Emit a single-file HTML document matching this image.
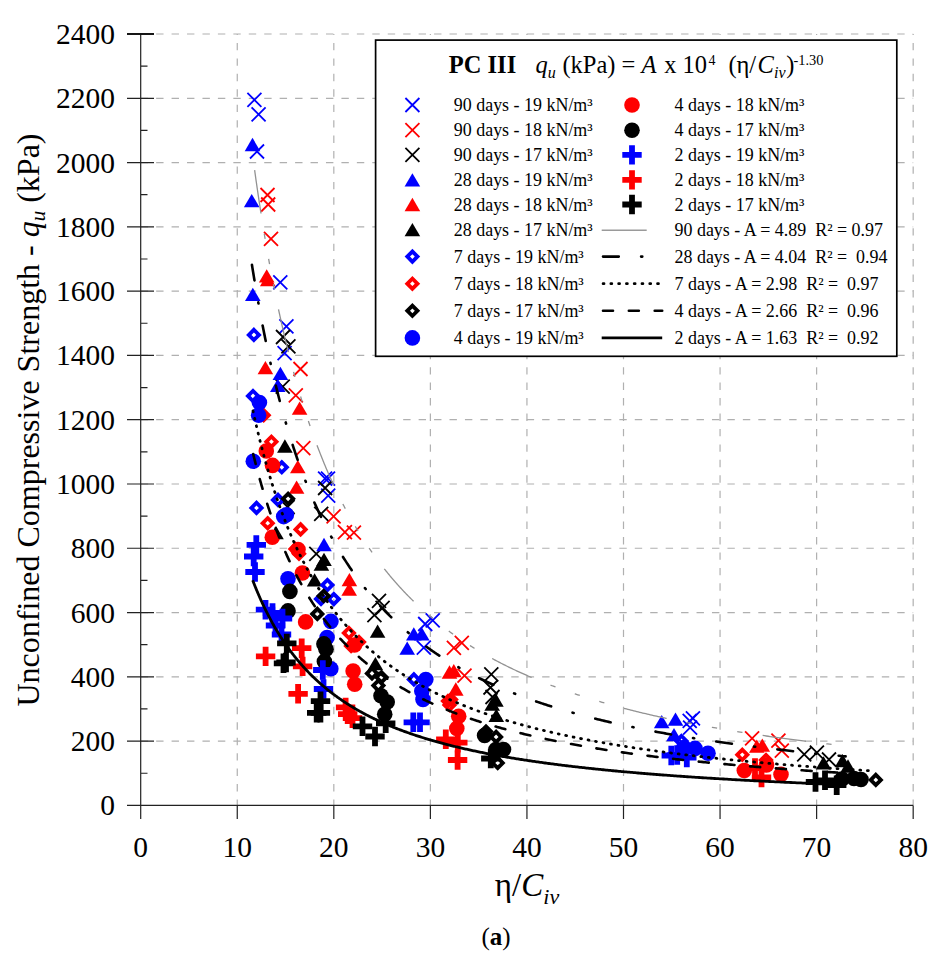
<!DOCTYPE html><html><head><meta charset="utf-8"><style>html,body{margin:0;padding:0;background:#fff;}svg{display:block;}text{font-family:"Liberation Serif",serif;}</style></head><body>
<svg width="942" height="964" viewBox="0 0 942 964">
<rect width="942" height="964" fill="#fff"/>
<path d="M237.26 805.40V33.99 M333.82 805.40V33.99 M430.38 805.40V33.99 M526.94 805.40V33.99 M623.50 805.40V33.99 M720.06 805.40V33.99 M816.62 805.40V33.99 M913.18 805.40V33.99" stroke="#b0b0b0" stroke-width="1.2" stroke-dasharray="7.4 8.04" stroke-dashoffset="1.5" fill="none"/>
<path d="M140.70 741.12H913.18 M140.70 676.83H913.18 M140.70 612.55H913.18 M140.70 548.26H913.18 M140.70 483.98H913.18 M140.70 419.70H913.18 M140.70 355.41H913.18 M140.70 291.13H913.18 M140.70 226.84H913.18 M140.70 162.56H913.18 M140.70 98.28H913.18 M140.70 33.99H913.18" stroke="#b0b0b0" stroke-width="1.2" stroke-dasharray="7.4 8.04" fill="none"/>
<path d="M140.70 33.99V805.40 M127 805.40H913.18 M127 805.40H154 M127 741.12H154 M127 676.83H154 M127 612.55H154 M127 548.26H154 M127 483.98H154 M127 419.70H154 M127 355.41H154 M127 291.13H154 M127 226.84H154 M127 162.56H154 M127 98.28H154 M127 33.99H154 M140.70 773.26H147.5 M140.70 708.97H147.5 M140.70 644.69H147.5 M140.70 580.41H147.5 M140.70 516.12H147.5 M140.70 451.84H147.5 M140.70 387.55H147.5 M140.70 323.27H147.5 M140.70 258.99H147.5 M140.70 194.70H147.5 M140.70 130.42H147.5 M140.70 66.13H147.5 M140.70 805.40V819 M237.26 805.40V819 M333.82 805.40V819 M430.38 805.40V819 M526.94 805.40V819 M623.50 805.40V819 M720.06 805.40V819 M816.62 805.40V819 M913.18 805.40V819" stroke="#222" stroke-width="1.2" fill="none"/>
<path d="M127 33.99H154" stroke="#111" stroke-width="1.9" fill="none"/>
<text x="115" y="815.40" font-size="29.5" text-anchor="end">0</text>
<text x="115" y="751.12" font-size="29.5" text-anchor="end">200</text>
<text x="115" y="686.83" font-size="29.5" text-anchor="end">400</text>
<text x="115" y="622.55" font-size="29.5" text-anchor="end">600</text>
<text x="115" y="558.26" font-size="29.5" text-anchor="end">800</text>
<text x="115" y="493.98" font-size="29.5" text-anchor="end">1000</text>
<text x="115" y="429.70" font-size="29.5" text-anchor="end">1200</text>
<text x="115" y="365.41" font-size="29.5" text-anchor="end">1400</text>
<text x="115" y="301.13" font-size="29.5" text-anchor="end">1600</text>
<text x="115" y="236.84" font-size="29.5" text-anchor="end">1800</text>
<text x="115" y="172.56" font-size="29.5" text-anchor="end">2000</text>
<text x="115" y="108.28" font-size="29.5" text-anchor="end">2200</text>
<text x="115" y="43.99" font-size="29.5" text-anchor="end">2400</text>
<text x="140.70" y="857" font-size="29.5" text-anchor="middle">0</text>
<text x="237.26" y="857" font-size="29.5" text-anchor="middle">10</text>
<text x="333.82" y="857" font-size="29.5" text-anchor="middle">20</text>
<text x="430.38" y="857" font-size="29.5" text-anchor="middle">30</text>
<text x="526.94" y="857" font-size="29.5" text-anchor="middle">40</text>
<text x="623.50" y="857" font-size="29.5" text-anchor="middle">50</text>
<text x="720.06" y="857" font-size="29.5" text-anchor="middle">60</text>
<text x="816.62" y="857" font-size="29.5" text-anchor="middle">70</text>
<text x="913.18" y="857" font-size="29.5" text-anchor="middle">80</text>
<text transform="translate(39 420) rotate(-90)" font-size="32" text-anchor="middle">Unconfined Compressive Strength - <tspan font-style="italic">q</tspan><tspan font-style="italic" font-size="21" dy="6">u</tspan><tspan dy="-6"> (kPa)</tspan></text>
<text x="527" y="896.4" font-size="33" text-anchor="middle">η/<tspan font-style="italic">C</tspan><tspan font-style="italic" font-size="22" dy="7.5">iv</tspan></text>
<text x="496" y="945" font-size="25" text-anchor="middle">(<tspan font-weight="bold">a</tspan>)</text>
<path d="M247.40 92.90L261.40 106.90M247.40 106.90L261.40 92.90" stroke="#0000ff" stroke-width="1.8" fill="none"/>
<path d="M251.60 107.40L265.60 121.40M251.60 121.40L265.60 107.40" stroke="#0000ff" stroke-width="1.8" fill="none"/>
<path d="M250.00 144.50L264.00 158.50M250.00 158.50L264.00 144.50" stroke="#0000ff" stroke-width="1.8" fill="none"/>
<path d="M273.30 275.40L287.30 289.40M273.30 289.40L287.30 275.40" stroke="#0000ff" stroke-width="1.8" fill="none"/>
<path d="M279.40 319.30L293.40 333.30M279.40 333.30L293.40 319.30" stroke="#0000ff" stroke-width="1.8" fill="none"/>
<path d="M277.60 346.20L291.60 360.20M277.60 360.20L291.60 346.20" stroke="#0000ff" stroke-width="1.8" fill="none"/>
<path d="M318.10 471.60L332.10 485.60M318.10 485.60L332.10 471.60" stroke="#0000ff" stroke-width="1.8" fill="none"/>
<path d="M321.00 471.60L335.00 485.60M321.00 485.60L335.00 471.60" stroke="#0000ff" stroke-width="1.8" fill="none"/>
<path d="M321.20 488.70L335.20 502.70M321.20 502.70L335.20 488.70" stroke="#0000ff" stroke-width="1.8" fill="none"/>
<path d="M418.20 617.00L432.20 631.00M418.20 631.00L432.20 617.00" stroke="#0000ff" stroke-width="1.8" fill="none"/>
<path d="M425.70 613.30L439.70 627.30M425.70 627.30L439.70 613.30" stroke="#0000ff" stroke-width="1.8" fill="none"/>
<path d="M416.80 640.70L430.80 654.70M416.80 654.70L430.80 640.70" stroke="#0000ff" stroke-width="1.8" fill="none"/>
<path d="M685.90 711.30L699.90 725.30M685.90 725.30L699.90 711.30" stroke="#0000ff" stroke-width="1.8" fill="none"/>
<path d="M682.70 713.80L696.70 727.80M682.70 727.80L696.70 713.80" stroke="#0000ff" stroke-width="1.8" fill="none"/>
<path d="M683.10 720.60L697.10 734.60M683.10 734.60L697.10 720.60" stroke="#0000ff" stroke-width="1.8" fill="none"/>
<path d="M260.50 188.00L274.50 202.00M260.50 202.00L274.50 188.00" stroke="#ff0000" stroke-width="1.8" fill="none"/>
<path d="M261.20 197.50L275.20 211.50M261.20 211.50L275.20 197.50" stroke="#ff0000" stroke-width="1.8" fill="none"/>
<path d="M264.00 231.90L278.00 245.90M264.00 245.90L278.00 231.90" stroke="#ff0000" stroke-width="1.8" fill="none"/>
<path d="M293.50 362.00L307.50 376.00M293.50 376.00L307.50 362.00" stroke="#ff0000" stroke-width="1.8" fill="none"/>
<path d="M288.80 388.40L302.80 402.40M288.80 402.40L302.80 388.40" stroke="#ff0000" stroke-width="1.8" fill="none"/>
<path d="M296.30 441.10L310.30 455.10M296.30 455.10L310.30 441.10" stroke="#ff0000" stroke-width="1.8" fill="none"/>
<path d="M326.60 509.40L340.60 523.40M326.60 523.40L340.60 509.40" stroke="#ff0000" stroke-width="1.8" fill="none"/>
<path d="M337.90 525.10L351.90 539.10M337.90 539.10L351.90 525.10" stroke="#ff0000" stroke-width="1.8" fill="none"/>
<path d="M346.90 525.70L360.90 539.70M346.90 539.70L360.90 525.70" stroke="#ff0000" stroke-width="1.8" fill="none"/>
<path d="M446.90 640.80L460.90 654.80M446.90 654.80L460.90 640.80" stroke="#ff0000" stroke-width="1.8" fill="none"/>
<path d="M454.80 635.80L468.80 649.80M454.80 649.80L468.80 635.80" stroke="#ff0000" stroke-width="1.8" fill="none"/>
<path d="M457.50 668.70L471.50 682.70M457.50 682.70L471.50 668.70" stroke="#ff0000" stroke-width="1.8" fill="none"/>
<path d="M745.10 731.30L759.10 745.30M745.10 745.30L759.10 731.30" stroke="#ff0000" stroke-width="1.8" fill="none"/>
<path d="M771.40 733.60L785.40 747.60M771.40 747.60L785.40 733.60" stroke="#ff0000" stroke-width="1.8" fill="none"/>
<path d="M774.80 743.60L788.80 757.60M774.80 757.60L788.80 743.60" stroke="#ff0000" stroke-width="1.8" fill="none"/>
<path d="M276.00 330.00L290.00 344.00M276.00 344.00L290.00 330.00" stroke="#000000" stroke-width="1.8" fill="none"/>
<path d="M281.40 339.40L295.40 353.40M281.40 353.40L295.40 339.40" stroke="#000000" stroke-width="1.8" fill="none"/>
<path d="M275.70 379.60L289.70 393.60M275.70 393.60L289.70 379.60" stroke="#000000" stroke-width="1.8" fill="none"/>
<path d="M318.10 481.00L332.10 495.00M318.10 495.00L332.10 481.00" stroke="#000000" stroke-width="1.8" fill="none"/>
<path d="M314.20 506.80L328.20 520.80M314.20 520.80L328.20 506.80" stroke="#000000" stroke-width="1.8" fill="none"/>
<path d="M280.60 500.00L294.60 514.00M280.60 514.00L294.60 500.00" stroke="#000000" stroke-width="1.8" fill="none"/>
<path d="M309.30 546.80L323.30 560.80M309.30 560.80L323.30 546.80" stroke="#000000" stroke-width="1.8" fill="none"/>
<path d="M372.00 593.90L386.00 607.90M372.00 607.90L386.00 593.90" stroke="#000000" stroke-width="1.8" fill="none"/>
<path d="M375.60 600.80L389.60 614.80M375.60 614.80L389.60 600.80" stroke="#000000" stroke-width="1.8" fill="none"/>
<path d="M367.40 608.10L381.40 622.10M367.40 622.10L381.40 608.10" stroke="#000000" stroke-width="1.8" fill="none"/>
<path d="M484.30 667.40L498.30 681.40M484.30 681.40L498.30 667.40" stroke="#000000" stroke-width="1.8" fill="none"/>
<path d="M483.50 680.50L497.50 694.50M483.50 694.50L497.50 680.50" stroke="#000000" stroke-width="1.8" fill="none"/>
<path d="M485.50 690.00L499.50 704.00M485.50 704.00L499.50 690.00" stroke="#000000" stroke-width="1.8" fill="none"/>
<path d="M797.20 747.40L811.20 761.40M797.20 761.40L811.20 747.40" stroke="#000000" stroke-width="1.8" fill="none"/>
<path d="M809.90 745.70L823.90 759.70M809.90 759.70L823.90 745.70" stroke="#000000" stroke-width="1.8" fill="none"/>
<path d="M822.00 752.50L836.00 766.50M822.00 766.50L836.00 752.50" stroke="#000000" stroke-width="1.8" fill="none"/>
<path d="M252.50 137.85L260.30 151.15L244.70 151.15Z" fill="#0000ff"/>
<path d="M251.70 193.95L259.50 207.25L243.90 207.25Z" fill="#0000ff"/>
<path d="M252.80 287.65L260.60 300.95L245.00 300.95Z" fill="#0000ff"/>
<path d="M280.40 366.65L288.20 379.95L272.60 379.95Z" fill="#0000ff"/>
<path d="M277.80 378.65L285.60 391.95L270.00 391.95Z" fill="#0000ff"/>
<path d="M324.00 537.85L331.80 551.15L316.20 551.15Z" fill="#0000ff"/>
<path d="M413.80 627.15L421.60 640.45L406.00 640.45Z" fill="#0000ff"/>
<path d="M421.80 627.15L429.60 640.45L414.00 640.45Z" fill="#0000ff"/>
<path d="M407.20 641.55L415.00 654.85L399.40 654.85Z" fill="#0000ff"/>
<path d="M661.70 715.05L669.50 728.35L653.90 728.35Z" fill="#0000ff"/>
<path d="M675.50 712.45L683.30 725.75L667.70 725.75Z" fill="#0000ff"/>
<path d="M674.00 727.95L681.80 741.25L666.20 741.25Z" fill="#0000ff"/>
<path d="M266.70 269.15L274.50 282.45L258.90 282.45Z" fill="#ff0000"/>
<path d="M267.75 272.85L275.55 286.15L259.95 286.15Z" fill="#ff0000"/>
<path d="M265.40 360.95L273.20 374.25L257.60 374.25Z" fill="#ff0000"/>
<path d="M299.60 401.55L307.40 414.85L291.80 414.85Z" fill="#ff0000"/>
<path d="M297.80 460.05L305.60 473.35L290.00 473.35Z" fill="#ff0000"/>
<path d="M296.60 480.55L304.40 493.85L288.80 493.85Z" fill="#ff0000"/>
<path d="M349.40 572.95L357.20 586.25L341.60 586.25Z" fill="#ff0000"/>
<path d="M349.20 582.45L357.00 595.75L341.40 595.75Z" fill="#ff0000"/>
<path d="M449.50 665.35L457.30 678.65L441.70 678.65Z" fill="#ff0000"/>
<path d="M453.80 663.95L461.60 677.25L446.00 677.25Z" fill="#ff0000"/>
<path d="M455.80 682.35L463.60 695.65L448.00 695.65Z" fill="#ff0000"/>
<path d="M756.80 739.55L764.60 752.85L749.00 752.85Z" fill="#ff0000"/>
<path d="M762.30 738.55L770.10 751.85L754.50 751.85Z" fill="#ff0000"/>
<path d="M284.90 439.35L292.70 452.65L277.10 452.65Z" fill="#000000"/>
<path d="M276.00 525.95L283.80 539.25L268.20 539.25Z" fill="#000000"/>
<path d="M324.00 552.65L331.80 565.95L316.20 565.95Z" fill="#000000"/>
<path d="M321.40 557.55L329.20 570.85L313.60 570.85Z" fill="#000000"/>
<path d="M314.60 573.25L322.40 586.55L306.80 586.55Z" fill="#000000"/>
<path d="M377.60 624.55L385.40 637.85L369.80 637.85Z" fill="#000000"/>
<path d="M375.40 656.95L383.20 670.25L367.60 670.25Z" fill="#000000"/>
<path d="M495.90 693.35L503.70 706.65L488.10 706.65Z" fill="#000000"/>
<path d="M492.20 697.55L500.00 710.85L484.40 710.85Z" fill="#000000"/>
<path d="M496.30 708.75L504.10 722.05L488.50 722.05Z" fill="#000000"/>
<path d="M823.50 756.15L831.30 769.45L815.70 769.45Z" fill="#000000"/>
<path d="M842.50 754.05L850.30 767.35L834.70 767.35Z" fill="#000000"/>
<path d="M848.00 759.35L855.80 772.65L840.20 772.65Z" fill="#000000"/>
<path d="M253.90 327.10L261.70 334.90L253.90 342.70L246.10 334.90ZM253.90 332.50L251.50 334.90L253.90 337.30L256.30 334.90Z" fill="#0000ff" fill-rule="evenodd"/>
<path d="M253.00 388.20L260.80 396.00L253.00 403.80L245.20 396.00ZM253.00 393.60L250.60 396.00L253.00 398.40L255.40 396.00Z" fill="#0000ff" fill-rule="evenodd"/>
<path d="M281.80 459.50L289.60 467.30L281.80 475.10L274.00 467.30ZM281.80 464.90L279.40 467.30L281.80 469.70L284.20 467.30Z" fill="#0000ff" fill-rule="evenodd"/>
<path d="M278.00 492.10L285.80 499.90L278.00 507.70L270.20 499.90ZM278.00 497.50L275.60 499.90L278.00 502.30L280.40 499.90Z" fill="#0000ff" fill-rule="evenodd"/>
<path d="M256.50 500.10L264.30 507.90L256.50 515.70L248.70 507.90ZM256.50 505.50L254.10 507.90L256.50 510.30L258.90 507.90Z" fill="#0000ff" fill-rule="evenodd"/>
<path d="M327.40 577.20L335.20 585.00L327.40 592.80L319.60 585.00ZM327.40 582.60L325.00 585.00L327.40 587.40L329.80 585.00Z" fill="#0000ff" fill-rule="evenodd"/>
<path d="M333.80 591.30L341.60 599.10L333.80 606.90L326.00 599.10ZM333.80 596.70L331.40 599.10L333.80 601.50L336.20 599.10Z" fill="#0000ff" fill-rule="evenodd"/>
<path d="M321.00 591.20L328.80 599.00L321.00 606.80L313.20 599.00ZM321.00 596.60L318.60 599.00L321.00 601.40L323.40 599.00Z" fill="#0000ff" fill-rule="evenodd"/>
<path d="M413.90 671.60L421.70 679.40L413.90 687.20L406.10 679.40ZM413.90 677.00L411.50 679.40L413.90 681.80L416.30 679.40Z" fill="#0000ff" fill-rule="evenodd"/>
<path d="M681.40 733.20L689.20 741.00L681.40 748.80L673.60 741.00ZM681.40 738.60L679.00 741.00L681.40 743.40L683.80 741.00Z" fill="#0000ff" fill-rule="evenodd"/>
<path d="M263.70 407.40L271.50 415.20L263.70 423.00L255.90 415.20ZM263.70 412.80L261.30 415.20L263.70 417.60L266.10 415.20Z" fill="#ff0000" fill-rule="evenodd"/>
<path d="M271.40 433.90L279.20 441.70L271.40 449.50L263.60 441.70ZM271.40 439.30L269.00 441.70L271.40 444.10L273.80 441.70Z" fill="#ff0000" fill-rule="evenodd"/>
<path d="M267.70 515.40L275.50 523.20L267.70 531.00L259.90 523.20ZM267.70 520.80L265.30 523.20L267.70 525.60L270.10 523.20Z" fill="#ff0000" fill-rule="evenodd"/>
<path d="M300.60 521.60L308.40 529.40L300.60 537.20L292.80 529.40ZM300.60 527.00L298.20 529.40L300.60 531.80L303.00 529.40Z" fill="#ff0000" fill-rule="evenodd"/>
<path d="M295.50 541.20L303.30 549.00L295.50 556.80L287.70 549.00ZM295.50 546.60L293.10 549.00L295.50 551.40L297.90 549.00Z" fill="#ff0000" fill-rule="evenodd"/>
<path d="M299.00 546.00L306.80 553.80L299.00 561.60L291.20 553.80ZM299.00 551.40L296.60 553.80L299.00 556.20L301.40 553.80Z" fill="#ff0000" fill-rule="evenodd"/>
<path d="M348.90 625.20L356.70 633.00L348.90 640.80L341.10 633.00ZM348.90 630.60L346.50 633.00L348.90 635.40L351.30 633.00Z" fill="#ff0000" fill-rule="evenodd"/>
<path d="M351.10 638.10L358.90 645.90L351.10 653.70L343.30 645.90ZM351.10 643.50L348.70 645.90L351.10 648.30L353.50 645.90Z" fill="#ff0000" fill-rule="evenodd"/>
<path d="M359.00 634.20L366.80 642.00L359.00 649.80L351.20 642.00ZM359.00 639.60L356.60 642.00L359.00 644.40L361.40 642.00Z" fill="#ff0000" fill-rule="evenodd"/>
<path d="M355.50 636.20L363.30 644.00L355.50 651.80L347.70 644.00ZM355.50 641.60L353.10 644.00L355.50 646.40L357.90 644.00Z" fill="#ff0000" fill-rule="evenodd"/>
<path d="M448.00 693.20L455.80 701.00L448.00 708.80L440.20 701.00ZM448.00 698.60L445.60 701.00L448.00 703.40L450.40 701.00Z" fill="#ff0000" fill-rule="evenodd"/>
<path d="M451.00 691.70L458.80 699.50L451.00 707.30L443.20 699.50ZM451.00 697.10L448.60 699.50L451.00 701.90L453.40 699.50Z" fill="#ff0000" fill-rule="evenodd"/>
<path d="M449.50 697.20L457.30 705.00L449.50 712.80L441.70 705.00ZM449.50 702.60L447.10 705.00L449.50 707.40L451.90 705.00Z" fill="#ff0000" fill-rule="evenodd"/>
<path d="M742.30 747.00L750.10 754.80L742.30 762.60L734.50 754.80ZM742.30 752.40L739.90 754.80L742.30 757.20L744.70 754.80Z" fill="#ff0000" fill-rule="evenodd"/>
<path d="M766.00 752.20L773.80 760.00L766.00 767.80L758.20 760.00ZM766.00 757.60L763.60 760.00L766.00 762.40L768.40 760.00Z" fill="#ff0000" fill-rule="evenodd"/>
<path d="M288.10 491.00L295.90 498.80L288.10 506.60L280.30 498.80ZM288.10 496.40L285.70 498.80L288.10 501.20L290.50 498.80Z" fill="#000000" fill-rule="evenodd"/>
<path d="M323.70 588.20L331.50 596.00L323.70 603.80L315.90 596.00ZM323.70 593.60L321.30 596.00L323.70 598.40L326.10 596.00Z" fill="#000000" fill-rule="evenodd"/>
<path d="M317.30 606.10L325.10 613.90L317.30 621.70L309.50 613.90ZM317.30 611.50L314.90 613.90L317.30 616.30L319.70 613.90Z" fill="#000000" fill-rule="evenodd"/>
<path d="M372.00 665.60L379.80 673.40L372.00 681.20L364.20 673.40ZM372.00 671.00L369.60 673.40L372.00 675.80L374.40 673.40Z" fill="#000000" fill-rule="evenodd"/>
<path d="M381.50 669.40L389.30 677.20L381.50 685.00L373.70 677.20ZM381.50 674.80L379.10 677.20L381.50 679.60L383.90 677.20Z" fill="#000000" fill-rule="evenodd"/>
<path d="M378.40 677.80L386.20 685.60L378.40 693.40L370.60 685.60ZM378.40 683.20L376.00 685.60L378.40 688.00L380.80 685.60Z" fill="#000000" fill-rule="evenodd"/>
<path d="M486.00 723.70L493.80 731.50L486.00 739.30L478.20 731.50ZM486.00 729.10L483.60 731.50L486.00 733.90L488.40 731.50Z" fill="#000000" fill-rule="evenodd"/>
<path d="M496.10 729.10L503.90 736.90L496.10 744.70L488.30 736.90ZM496.10 734.50L493.70 736.90L496.10 739.30L498.50 736.90Z" fill="#000000" fill-rule="evenodd"/>
<path d="M497.70 755.10L505.50 762.90L497.70 770.70L489.90 762.90ZM497.70 760.50L495.30 762.90L497.70 765.30L500.10 762.90Z" fill="#000000" fill-rule="evenodd"/>
<path d="M875.80 772.10L883.60 779.90L875.80 787.70L868.00 779.90ZM875.80 777.50L873.40 779.90L875.80 782.30L878.20 779.90Z" fill="#000000" fill-rule="evenodd"/>
<circle cx="259.40" cy="402.50" r="7.8" fill="#0000ff"/>
<circle cx="258.60" cy="415.20" r="7.8" fill="#0000ff"/>
<circle cx="253.30" cy="461.30" r="7.8" fill="#0000ff"/>
<circle cx="283.70" cy="516.60" r="7.8" fill="#0000ff"/>
<circle cx="286.40" cy="514.80" r="7.8" fill="#0000ff"/>
<circle cx="288.00" cy="578.80" r="7.8" fill="#0000ff"/>
<circle cx="330.90" cy="621.40" r="7.8" fill="#0000ff"/>
<circle cx="327.10" cy="637.50" r="7.8" fill="#0000ff"/>
<circle cx="330.80" cy="668.80" r="7.8" fill="#0000ff"/>
<circle cx="425.80" cy="679.50" r="7.8" fill="#0000ff"/>
<circle cx="421.80" cy="691.00" r="7.8" fill="#0000ff"/>
<circle cx="423.00" cy="699.50" r="7.8" fill="#0000ff"/>
<circle cx="684.00" cy="747.60" r="7.8" fill="#0000ff"/>
<circle cx="695.00" cy="748.40" r="7.8" fill="#0000ff"/>
<circle cx="708.00" cy="753.30" r="7.8" fill="#0000ff"/>
<circle cx="266.30" cy="451.00" r="7.8" fill="#ff0000"/>
<circle cx="272.50" cy="465.40" r="7.8" fill="#ff0000"/>
<circle cx="272.30" cy="537.30" r="7.8" fill="#ff0000"/>
<circle cx="298.00" cy="549.50" r="7.8" fill="#ff0000"/>
<circle cx="302.40" cy="573.00" r="7.8" fill="#ff0000"/>
<circle cx="305.60" cy="621.90" r="7.8" fill="#ff0000"/>
<circle cx="354.50" cy="645.00" r="7.8" fill="#ff0000"/>
<circle cx="353.10" cy="671.00" r="7.8" fill="#ff0000"/>
<circle cx="354.70" cy="684.20" r="7.8" fill="#ff0000"/>
<circle cx="458.70" cy="716.20" r="7.8" fill="#ff0000"/>
<circle cx="456.80" cy="728.40" r="7.8" fill="#ff0000"/>
<circle cx="744.30" cy="770.50" r="7.8" fill="#ff0000"/>
<circle cx="766.50" cy="765.00" r="7.8" fill="#ff0000"/>
<circle cx="781.00" cy="774.40" r="7.8" fill="#ff0000"/>
<circle cx="289.90" cy="591.40" r="7.8" fill="#000000"/>
<circle cx="288.00" cy="610.90" r="7.8" fill="#000000"/>
<circle cx="323.90" cy="643.90" r="7.8" fill="#000000"/>
<circle cx="326.00" cy="649.20" r="7.8" fill="#000000"/>
<circle cx="324.40" cy="661.40" r="7.8" fill="#000000"/>
<circle cx="381.00" cy="695.80" r="7.8" fill="#000000"/>
<circle cx="387.20" cy="702.00" r="7.8" fill="#000000"/>
<circle cx="384.70" cy="714.30" r="7.8" fill="#000000"/>
<circle cx="484.60" cy="735.50" r="7.8" fill="#000000"/>
<circle cx="503.50" cy="749.60" r="7.8" fill="#000000"/>
<circle cx="496.00" cy="749.50" r="7.8" fill="#000000"/>
<circle cx="854.00" cy="778.50" r="7.8" fill="#000000"/>
<circle cx="861.00" cy="779.50" r="7.8" fill="#000000"/>
<circle cx="842.00" cy="779.00" r="7.8" fill="#000000"/>
<path d="M253.40 535.20h5.8v6.80h6.80v5.8h-6.80v6.80h-5.8v-6.80h-6.80v-5.8h6.80Z" fill="#0000ff"/>
<path d="M250.80 546.80h5.8v6.80h6.80v5.8h-6.80v6.80h-5.8v-6.80h-6.80v-5.8h6.80Z" fill="#0000ff"/>
<path d="M252.10 562.30h5.8v6.80h6.80v5.8h-6.80v6.80h-5.8v-6.80h-6.80v-5.8h6.80Z" fill="#0000ff"/>
<path d="M262.60 600.00h5.8v6.80h6.80v5.8h-6.80v6.80h-5.8v-6.80h-6.80v-5.8h6.80Z" fill="#0000ff"/>
<path d="M269.60 603.30h5.8v6.80h6.80v5.8h-6.80v6.80h-5.8v-6.80h-6.80v-5.8h6.80Z" fill="#0000ff"/>
<path d="M279.60 608.80h5.8v6.80h6.80v5.8h-6.80v6.80h-5.8v-6.80h-6.80v-5.8h6.80Z" fill="#0000ff"/>
<path d="M272.60 615.80h5.8v6.80h6.80v5.8h-6.80v6.80h-5.8v-6.80h-6.80v-5.8h6.80Z" fill="#0000ff"/>
<path d="M278.60 624.80h5.8v6.80h6.80v5.8h-6.80v6.80h-5.8v-6.80h-6.80v-5.8h6.80Z" fill="#0000ff"/>
<path d="M319.90 660.30h5.8v6.80h6.80v5.8h-6.80v6.80h-5.8v-6.80h-6.80v-5.8h6.80Z" fill="#0000ff"/>
<path d="M320.60 679.30h5.8v6.80h6.80v5.8h-6.80v6.80h-5.8v-6.80h-6.80v-5.8h6.80Z" fill="#0000ff"/>
<path d="M410.40 712.60h5.8v6.80h6.80v5.8h-6.80v6.80h-5.8v-6.80h-6.80v-5.8h6.80Z" fill="#0000ff"/>
<path d="M417.10 712.60h5.8v6.80h6.80v5.8h-6.80v6.80h-5.8v-6.80h-6.80v-5.8h6.80Z" fill="#0000ff"/>
<path d="M668.40 745.80h5.8v6.80h6.80v5.8h-6.80v6.80h-5.8v-6.80h-6.80v-5.8h6.80Z" fill="#0000ff"/>
<path d="M674.30 745.30h5.8v6.80h6.80v5.8h-6.80v6.80h-5.8v-6.80h-6.80v-5.8h6.80Z" fill="#0000ff"/>
<path d="M683.90 747.90h5.8v6.80h6.80v5.8h-6.80v6.80h-5.8v-6.80h-6.80v-5.8h6.80Z" fill="#0000ff"/>
<path d="M262.70 646.70h5.8v6.80h6.80v5.8h-6.80v6.80h-5.8v-6.80h-6.80v-5.8h6.80Z" fill="#ff0000"/>
<path d="M298.80 638.50h5.8v6.80h6.80v5.8h-6.80v6.80h-5.8v-6.80h-6.80v-5.8h6.80Z" fill="#ff0000"/>
<path d="M299.70 656.70h5.8v6.80h6.80v5.8h-6.80v6.80h-5.8v-6.80h-6.80v-5.8h6.80Z" fill="#ff0000"/>
<path d="M295.20 684.10h5.8v6.80h6.80v5.8h-6.80v6.80h-5.8v-6.80h-6.80v-5.8h6.80Z" fill="#ff0000"/>
<path d="M342.70 697.70h5.8v6.80h6.80v5.8h-6.80v6.80h-5.8v-6.80h-6.80v-5.8h6.80Z" fill="#ff0000"/>
<path d="M344.80 704.50h5.8v6.80h6.80v5.8h-6.80v6.80h-5.8v-6.80h-6.80v-5.8h6.80Z" fill="#ff0000"/>
<path d="M349.60 708.50h5.8v6.80h6.80v5.8h-6.80v6.80h-5.8v-6.80h-6.80v-5.8h6.80Z" fill="#ff0000"/>
<path d="M442.90 729.60h5.8v6.80h6.80v5.8h-6.80v6.80h-5.8v-6.80h-6.80v-5.8h6.80Z" fill="#ff0000"/>
<path d="M454.90 733.00h5.8v6.80h6.80v5.8h-6.80v6.80h-5.8v-6.80h-6.80v-5.8h6.80Z" fill="#ff0000"/>
<path d="M454.70 750.30h5.8v6.80h6.80v5.8h-6.80v6.80h-5.8v-6.80h-6.80v-5.8h6.80Z" fill="#ff0000"/>
<path d="M752.10 758.30h5.8v6.80h6.80v5.8h-6.80v6.80h-5.8v-6.80h-6.80v-5.8h6.80Z" fill="#ff0000"/>
<path d="M758.60 767.80h5.8v6.80h6.80v5.8h-6.80v6.80h-5.8v-6.80h-6.80v-5.8h6.80Z" fill="#ff0000"/>
<path d="M283.90 633.70h5.8v6.80h6.80v5.8h-6.80v6.80h-5.8v-6.80h-6.80v-5.8h6.80Z" fill="#000000"/>
<path d="M280.60 653.60h5.8v6.80h6.80v5.8h-6.80v6.80h-5.8v-6.80h-6.80v-5.8h6.80Z" fill="#000000"/>
<path d="M283.10 652.80h5.8v6.80h6.80v5.8h-6.80v6.80h-5.8v-6.80h-6.80v-5.8h6.80Z" fill="#000000"/>
<path d="M317.60 691.40h5.8v6.80h6.80v5.8h-6.80v6.80h-5.8v-6.80h-6.80v-5.8h6.80Z" fill="#000000"/>
<path d="M313.80 703.10h5.8v6.80h6.80v5.8h-6.80v6.80h-5.8v-6.80h-6.80v-5.8h6.80Z" fill="#000000"/>
<path d="M317.50 703.10h5.8v6.80h6.80v5.8h-6.80v6.80h-5.8v-6.80h-6.80v-5.8h6.80Z" fill="#000000"/>
<path d="M359.60 716.60h5.8v6.80h6.80v5.8h-6.80v6.80h-5.8v-6.80h-6.80v-5.8h6.80Z" fill="#000000"/>
<path d="M372.10 726.80h5.8v6.80h6.80v5.8h-6.80v6.80h-5.8v-6.80h-6.80v-5.8h6.80Z" fill="#000000"/>
<path d="M382.80 713.60h5.8v6.80h6.80v5.8h-6.80v6.80h-5.8v-6.80h-6.80v-5.8h6.80Z" fill="#000000"/>
<path d="M487.90 748.80h5.8v6.80h6.80v5.8h-6.80v6.80h-5.8v-6.80h-6.80v-5.8h6.80Z" fill="#000000"/>
<path d="M812.60 772.30h5.8v6.80h6.80v5.8h-6.80v6.80h-5.8v-6.80h-6.80v-5.8h6.80Z" fill="#000000"/>
<path d="M822.10 770.60h5.8v6.80h6.80v5.8h-6.80v6.80h-5.8v-6.80h-6.80v-5.8h6.80Z" fill="#000000"/>
<path d="M833.80 775.50h5.8v6.80h6.80v5.8h-6.80v6.80h-5.8v-6.80h-6.80v-5.8h6.80Z" fill="#000000"/>
<path d="M254.64 170.16 L254.98 172.65 L255.33 175.12 L255.68 177.59 L256.02 180.04 L256.37 182.49 L256.72 184.92 L257.07 187.35 L257.42 189.77 L257.77 192.18 L258.13 194.57 L258.48 196.96 L258.84 199.34 L259.19 201.71 L259.55 204.07 L259.91 206.43 L260.27 208.77 L260.63 211.10 L260.99 213.43 L261.36 215.74 L261.72 218.05 L262.09 220.34 L262.45 222.63 L262.82 224.91 L263.19 227.18 L263.56 229.44 L263.93 231.70 L264.30 233.94 L264.67 236.17 L265.05 238.40 L265.42 240.62 L265.80 242.83 L266.18 245.03 L266.56 247.22 L266.94 249.40 L267.32 251.58 L267.70 253.74 L268.08 255.90 L268.47 258.05 L268.85 260.19 L269.24 262.32 L269.63 264.45 L270.02 266.56 L270.41 268.67 L270.80 270.77 L271.19 272.86 L271.59 274.94 L271.98 277.02 L272.38 279.08 L272.78 281.14 L273.17 283.19 L273.57 285.23 L273.98 287.27 L274.38 289.29 L274.78 291.31 L275.19 293.32 L275.59 295.33 L276.00 297.32 L276.41 299.31 L276.82 301.29 L277.23 303.26 L277.64 305.22 L278.05 307.18 L278.47 309.13 L278.88 311.07 L279.30 313.00 L279.72 314.93 L280.14 316.84 L280.56 318.76 L280.98 320.66 L281.41 322.55 L281.83 324.44 L282.26 326.32 L282.68 328.20 L283.11 330.06 L283.54 331.92 L283.97 333.77 L284.41 335.62 L284.84 337.46 L285.28 339.29 L285.71 341.11 L286.15 342.92 L286.59 344.73 L287.03 346.53 L287.47 348.33 L287.91 350.12 L288.36 351.90 L288.80 353.67 L289.25 355.44 L289.70 357.20 L290.15 358.95 L290.60 360.70 L291.05 362.44 L291.51 364.17 L291.96 365.89 L292.42 367.61 L292.88 369.32 L293.34 371.03 L293.80 372.73 L294.26 374.42 L294.72 376.11 L295.19 377.79 L295.66 379.46 L296.12 381.12 L296.59 382.78 L297.06 384.44 L297.53 386.08 L298.01 387.72 L298.48 389.36 L298.96 390.98 L299.44 392.60 L299.92 394.22 L300.40 395.83 L300.88 397.43 L301.36 399.02 L301.85 400.61 L302.33 402.20 L302.82 403.77 L303.31 405.34 L303.80 406.91 L304.29 408.47 L304.79 410.02 L305.28 411.56 L305.78 413.11 L306.28 414.64 L306.78 416.17 L307.28 417.69 L307.78 419.21 L308.29 420.72 L308.79 422.22 L309.30 423.72 L309.81 425.21 L310.32 426.70 L310.83 428.18 L311.35 429.66 L311.86 431.12 L312.38 432.59 L312.90 434.05 L313.42 435.50 L313.94 436.95 L314.46 438.39 L314.99 439.82 L315.51 441.25 L316.04 442.68 L316.57 444.09 L317.10 445.51 L317.63 446.92 L318.17 448.32 L318.70 449.71 L319.24 451.10 L319.78 452.49 L320.32 453.87 L320.86 455.25 L321.40 456.61 L321.95 457.98 L322.50 459.34 L323.05 460.69 L323.60 462.04 L324.15 463.38 L324.70 464.72 L325.26 466.05 L325.82 467.38 L326.37 468.70 L326.93 470.02 L327.50 471.33 L328.06 472.64 L328.63 473.94 L329.19 475.23 L329.76 476.52 L330.33 477.81 L330.91 479.09 L331.48 480.37 L332.06 481.64 L332.63 482.91 L333.21 484.17 L333.79 485.42 L334.38 486.67 L334.96 487.92 L335.55 489.16 L336.14 490.40 L336.73 491.63 L337.32 492.86 L337.91 494.08 L338.51 495.30 L339.10 496.51 L339.70 497.72 L340.30 498.92 L340.91 500.12 L341.51 501.32 L342.12 502.50 L342.73 503.69 L343.33 504.87 L343.95 506.04 L344.56 507.21 L345.18 508.38 L345.79 509.54 L346.41 510.70 L347.03 511.85 L347.66 513.00 L348.28 514.14 L348.91 515.28 L349.54 516.42 L350.17 517.55 L350.80 518.67 L351.43 519.79 L352.07 520.91 L352.71 522.02 L353.35 523.13 L353.99 524.24 L354.63 525.34 L355.28 526.43 L355.93 527.52 L356.58 528.61 L357.23 529.69 L357.88 530.77 L358.54 531.84 L359.19 532.91 L359.85 533.98 L360.52 535.04 L361.18 536.10 L361.85 537.15 L362.51 538.20 L363.18 539.25 L363.85 540.29 L364.53 541.32 L365.20 542.36 L365.88 543.38 L366.56 544.41 L367.24 545.43 L367.93 546.45 L368.61 547.46 L369.30 548.47 L369.99 549.47 L370.68 550.47 L371.38 551.47 L372.07 552.46 L372.77 553.45 L373.47 554.44 L374.18 555.42 L374.88 556.40 L375.59 557.37 L376.30 558.34 L377.01 559.31 L377.72 560.27 L378.44 561.23 L379.15 562.18 L379.87 563.14 L380.60 564.08 L381.32 565.03 L382.05 565.97 L382.78 566.90 L383.51 567.84 L384.24 568.76 L384.97 569.69 L385.71 570.61 L386.45 571.53 L387.19 572.45 L387.94 573.36 L388.68 574.26 L389.43 575.17 L390.18 576.07 L390.94 576.96 L391.69 577.86 L392.45 578.75 L393.21 579.63 L393.97 580.52 L394.74 581.40 L395.50 582.27 L396.27 583.15 L397.04 584.01 L397.82 584.88 L398.59 585.74 L399.37 586.60 L400.15 587.46 L400.94 588.31 L401.72 589.16 L402.51 590.00 L403.30 590.85 L404.09 591.69 L404.89 592.52 L405.69 593.35 L406.49 594.18 L407.29 595.01 L408.09 595.83 L408.90 596.65 L409.71 597.47 L410.52 598.28 L411.34 599.09 L412.15 599.90 L412.97 600.70 L413.79 601.50 L414.62 602.30 L415.45 603.09 L416.28 603.89 L417.11 604.67 L417.94 605.46 L418.78 606.24 L419.62 607.02 L420.46 607.80 L421.31 608.57 L422.15 609.34 L423.00 610.11 L423.85 610.87 L424.71 611.63 L425.57 612.39 L426.43 613.14 L427.29 613.89 L428.15 614.64 L429.02 615.39 L429.89 616.13 L430.77 616.87 L431.64 617.61 L432.52 618.34 L433.40 619.08 L434.28 619.80 L435.17 620.53 L436.06 621.25 L436.95 621.97 L437.84 622.69 L438.74 623.41 L439.64 624.12 L440.54 624.83 L441.45 625.53 L442.36 626.24 L443.27 626.94 L444.18 627.63 L445.10 628.33 L446.02 629.02 L446.94 629.71 L447.86 630.40 L448.79 631.08 L449.72 631.77 L450.65 632.44 L451.59 633.12 L452.53 633.79 L453.47 634.47 L454.41 635.13 L455.36 635.80 L456.31 636.46 L457.26 637.12 L458.22 637.78 L459.18 638.44 L460.14 639.09 L461.10 639.74 L462.07 640.39 L463.04 641.03 L464.01 641.68 L464.99 642.32 L465.97 642.96 L466.95 643.59 L467.93 644.22 L468.92 644.85 L469.91 645.48 L470.91 646.11 L471.90 646.73 L472.90 647.35 L473.91 647.97 L474.91 648.58 L475.92 649.20 L476.93 649.81 L477.95 650.42 L478.97 651.02 L479.99 651.63 L481.01 652.23 L482.04 652.83 L483.07 653.42 L484.10 654.02 L485.14 654.61 L486.18 655.20 L487.22 655.79 L488.27 656.37 L489.32 656.96 L490.37 657.54 L491.43 658.11 L492.48 658.69 L493.55 659.26 L494.61 659.84 L495.68 660.41 L496.75 660.97 L497.83 661.54 L498.90 662.10 L499.99 662.66 L501.07 663.22 L502.16 663.77 L503.25 664.33 L504.34 664.88 L505.44 665.43 L506.54 665.98 L507.65 666.52 L508.76 667.07 L509.87 667.61 L510.98 668.15 L512.10 668.68 L513.22 669.22 L514.34 669.75 L515.47 670.28 L516.60 670.81 L517.74 671.33 L518.88 671.86 L520.02 672.38 L521.16 672.90 L522.31 673.42 L523.46 673.94 L524.62 674.45 L525.78 674.96 L526.94 675.47 L528.11 675.98 L529.28 676.49 L530.45 676.99 L531.63 677.49 L532.81 677.99 L533.99 678.49 L535.18 678.99 L536.37 679.48 L537.56 679.97 L538.76 680.46 L539.96 680.95 L541.17 681.44 L542.38 681.93 L543.59 682.41 L544.81 682.89 L546.03 683.37 L547.25 683.85 L548.48 684.32 L549.71 684.79 L550.94 685.27 L552.18 685.74 L553.42 686.20 L554.67 686.67 L555.92 687.13 L557.17 687.60 L558.43 688.06 L559.69 688.52 L560.95 688.97 L562.22 689.43 L563.50 689.88 L564.77 690.33 L566.05 690.78 L567.34 691.23 L568.62 691.68 L569.92 692.12 L571.21 692.57 L572.51 693.01 L573.82 693.45 L575.12 693.89 L576.43 694.32 L577.75 694.76 L579.07 695.19 L580.39 695.62 L581.72 696.05 L583.05 696.48 L584.39 696.90 L585.73 697.33 L587.07 697.75 L588.42 698.17 L589.77 698.59 L591.12 699.01 L592.48 699.42 L593.85 699.84 L595.22 700.25 L596.59 700.66 L597.96 701.07 L599.34 701.48 L600.73 701.89 L602.12 702.29 L603.51 702.69 L604.91 703.10 L606.31 703.50 L607.71 703.89 L609.12 704.29 L610.54 704.69 L611.96 705.08 L613.38 705.47 L614.81 705.86 L616.24 706.25 L617.67 706.64 L619.11 707.03 L620.56 707.41 L622.01 707.80 L623.46 708.18 L624.92 708.56 L626.38 708.94 L627.84 709.31 L629.32 709.69 L630.79 710.06 L632.27 710.44 L633.75 710.81 L635.24 711.18 L636.74 711.55 L638.23 711.91 L639.73 712.28 L641.24 712.64 L642.75 713.01 L644.27 713.37 L645.79 713.73 L647.31 714.09 L648.84 714.44 L650.38 714.80 L651.91 715.15 L653.46 715.51 L655.01 715.86 L656.56 716.21 L658.12 716.56 L659.68 716.90 L661.24 717.25 L662.82 717.59 L664.39 717.94 L665.97 718.28 L667.56 718.62 L669.15 718.96 L670.74 719.30 L672.34 719.63 L673.95 719.97 L675.56 720.30 L677.17 720.64 L678.79 720.97 L680.42 721.30 L682.05 721.63 L683.68 721.96 L685.32 722.28 L686.96 722.61 L688.61 722.93 L690.27 723.25 L691.93 723.57 L693.59 723.89 L695.26 724.21 L696.93 724.53 L698.61 724.85 L700.30 725.16 L701.99 725.48 L703.68 725.79 L705.38 726.10 L707.09 726.41 L708.80 726.72 L710.51 727.03 L712.23 727.33 L713.96 727.64 L715.69 727.94 L717.42 728.25 L719.16 728.55 L720.91 728.85 L722.66 729.15 L724.42 729.45 L726.18 729.74 L727.95 730.04 L729.72 730.33 L731.50 730.63 L733.28 730.92 L735.07 731.21 L736.86 731.50 L738.66 731.79 L740.47 732.08 L742.28 732.36 L744.10 732.65 L745.92 732.93 L747.75 733.22 L749.58 733.50 L751.42 733.78 L753.26 734.06 L755.11 734.34 L756.96 734.62 L758.82 734.89 L760.69 735.17 L762.56 735.45 L764.44 735.72 L766.32 735.99 L768.21 736.26 L770.10 736.53 L772.00 736.80 L773.91 737.07 L775.82 737.34 L777.74 737.60 L779.66 737.87 L781.59 738.13 L783.53 738.40 L785.47 738.66 L787.41 738.92 L789.37 739.18 L791.32 739.44 L793.29 739.70 L795.26 739.95 L797.23 740.21 L799.22 740.46 L801.20 740.72 L803.20 740.97 L805.20 741.22 L807.20 741.47 L809.22 741.72 L811.23 741.97 L813.26 742.22 L815.29 742.47 L817.32 742.71 L819.37 742.96 L821.42 743.20 L823.47 743.45 L825.53 743.69 L827.60 743.93 L829.67 744.17 L831.75 744.41 L833.84 744.65 L835.93 744.89" fill="none" stroke="#929292" stroke-width="1.3" stroke-dasharray="43.8 20.4 5.3 20.4 5.3 20.4 5.3 20.4"/>
<path d="M251.74 263.52 L252.09 265.69 L252.43 267.84 L252.77 269.99 L253.12 272.13 L253.47 274.26 L253.82 276.39 L254.16 278.50 L254.51 280.61 L254.87 282.70 L255.22 284.79 L255.57 286.87 L255.93 288.94 L256.28 291.01 L256.64 293.06 L256.99 295.11 L257.35 297.15 L257.71 299.18 L258.07 301.20 L258.44 303.22 L258.80 305.23 L259.16 307.22 L259.53 309.22 L259.90 311.20 L260.26 313.17 L260.63 315.14 L261.00 317.10 L261.37 319.05 L261.75 320.99 L262.12 322.93 L262.49 324.86 L262.87 326.78 L263.25 328.69 L263.62 330.60 L264.00 332.49 L264.38 334.38 L264.77 336.27 L265.15 338.14 L265.53 340.01 L265.92 341.87 L266.30 343.72 L266.69 345.57 L267.08 347.40 L267.47 349.23 L267.86 351.06 L268.25 352.87 L268.65 354.68 L269.04 356.48 L269.44 358.28 L269.83 360.06 L270.23 361.84 L270.63 363.61 L271.03 365.38 L271.44 367.14 L271.84 368.89 L272.24 370.63 L272.65 372.37 L273.06 374.10 L273.46 375.83 L273.87 377.54 L274.28 379.25 L274.70 380.96 L275.11 382.65 L275.53 384.34 L275.94 386.02 L276.36 387.70 L276.78 389.37 L277.20 391.03 L277.62 392.69 L278.04 394.34 L278.46 395.98 L278.89 397.62 L279.31 399.24 L279.74 400.87 L280.17 402.48 L280.60 404.09 L281.03 405.70 L281.47 407.30 L281.90 408.89 L282.34 410.47 L282.77 412.05 L283.21 413.62 L283.65 415.19 L284.09 416.75 L284.53 418.30 L284.98 419.85 L285.42 421.39 L285.87 422.92 L286.32 424.45 L286.77 425.97 L287.22 427.49 L287.67 429.00 L288.12 430.50 L288.58 432.00 L289.03 433.49 L289.49 434.98 L289.95 436.46 L290.41 437.93 L290.87 439.40 L291.34 440.87 L291.80 442.32 L292.27 443.77 L292.73 445.22 L293.20 446.66 L293.67 448.09 L294.15 449.52 L294.62 450.94 L295.09 452.36 L295.57 453.77 L296.05 455.17 L296.53 456.57 L297.01 457.97 L297.49 459.36 L297.97 460.74 L298.46 462.12 L298.95 463.49 L299.43 464.85 L299.92 466.22 L300.41 467.57 L300.91 468.92 L301.40 470.27 L301.90 471.60 L302.39 472.94 L302.89 474.27 L303.39 475.59 L303.90 476.91 L304.40 478.22 L304.90 479.53 L305.41 480.83 L305.92 482.13 L306.43 483.42 L306.94 484.71 L307.45 485.99 L307.97 487.26 L308.48 488.54 L309.00 489.80 L309.52 491.06 L310.04 492.32 L310.56 493.57 L311.09 494.82 L311.61 496.06 L312.14 497.29 L312.67 498.53 L313.20 499.75 L313.73 500.97 L314.27 502.19 L314.80 503.40 L315.34 504.61 L315.88 505.81 L316.42 507.01 L316.96 508.20 L317.50 509.39 L318.05 510.57 L318.60 511.75 L319.14 512.92 L319.69 514.09 L320.25 515.26 L320.80 516.41 L321.36 517.57 L321.91 518.72 L322.47 519.87 L323.03 521.01 L323.60 522.14 L324.16 523.28 L324.73 524.40 L325.29 525.53 L325.86 526.64 L326.43 527.76 L327.01 528.87 L327.58 529.97 L328.16 531.07 L328.74 532.17 L329.32 533.26 L329.90 534.35 L330.48 535.43 L331.07 536.51 L331.66 537.59 L332.24 538.66 L332.84 539.72 L333.43 540.78 L334.02 541.84 L334.62 542.89 L335.22 543.94 L335.82 544.99 L336.42 546.03 L337.02 547.07 L337.63 548.10 L338.24 549.13 L338.85 550.15 L339.46 551.17 L340.07 552.19 L340.68 553.20 L341.30 554.21 L341.92 555.21 L342.54 556.21 L343.16 557.21 L343.79 558.20 L344.42 559.19 L345.04 560.17 L345.67 561.15 L346.31 562.13 L346.94 563.10 L347.58 564.07 L348.22 565.03 L348.86 565.99 L349.50 566.95 L350.14 567.90 L350.79 568.85 L351.44 569.79 L352.09 570.74 L352.74 571.67 L353.39 572.61 L354.05 573.54 L354.71 574.46 L355.37 575.39 L356.03 576.31 L356.69 577.22 L357.36 578.13 L358.03 579.04 L358.70 579.95 L359.37 580.85 L360.05 581.75 L360.72 582.64 L361.40 583.53 L362.08 584.42 L362.76 585.30 L363.45 586.18 L364.14 587.05 L364.83 587.93 L365.52 588.80 L366.21 589.66 L366.91 590.52 L367.60 591.38 L368.30 592.24 L369.01 593.09 L369.71 593.94 L370.42 594.78 L371.13 595.63 L371.84 596.46 L372.55 597.30 L373.27 598.13 L373.98 598.96 L374.70 599.78 L375.42 600.60 L376.15 601.42 L376.87 602.24 L377.60 603.05 L378.33 603.86 L379.07 604.66 L379.80 605.47 L380.54 606.27 L381.28 607.06 L382.02 607.85 L382.77 608.64 L383.51 609.43 L384.26 610.21 L385.01 610.99 L385.77 611.77 L386.52 612.54 L387.28 613.31 L388.04 614.08 L388.81 614.85 L389.57 615.61 L390.34 616.37 L391.11 617.12 L391.88 617.87 L392.66 618.62 L393.43 619.37 L394.21 620.11 L395.00 620.85 L395.78 621.59 L396.57 622.33 L397.36 623.06 L398.15 623.79 L398.94 624.51 L399.74 625.23 L400.54 625.95 L401.34 626.67 L402.14 627.39 L402.95 628.10 L403.76 628.81 L404.57 629.51 L405.38 630.21 L406.20 630.91 L407.02 631.61 L407.84 632.31 L408.67 633.00 L409.49 633.69 L410.32 634.37 L411.15 635.06 L411.99 635.74 L412.82 636.42 L413.66 637.09 L414.51 637.76 L415.35 638.43 L416.20 639.10 L417.05 639.77 L417.90 640.43 L418.76 641.09 L419.61 641.74 L420.47 642.40 L421.34 643.05 L422.20 643.70 L423.07 644.34 L423.94 644.99 L424.82 645.63 L425.69 646.27 L426.57 646.90 L427.45 647.54 L428.34 648.17 L429.23 648.80 L430.12 649.42 L431.01 650.04 L431.90 650.67 L432.80 651.28 L433.70 651.90 L434.61 652.51 L435.51 653.12 L436.42 653.73 L437.34 654.34 L438.25 654.94 L439.17 655.54 L440.09 656.14 L441.01 656.74 L441.94 657.33 L442.87 657.92 L443.80 658.51 L444.74 659.10 L445.67 659.69 L446.62 660.27 L447.56 660.85 L448.51 661.43 L449.46 662.00 L450.41 662.57 L451.36 663.14 L452.32 663.71 L453.28 664.28 L454.25 664.84 L455.21 665.40 L456.18 665.96 L457.16 666.52 L458.13 667.08 L459.11 667.63 L460.10 668.18 L461.08 668.73 L462.07 669.27 L463.06 669.82 L464.06 670.36 L465.05 670.90 L466.05 671.44 L467.06 671.97 L468.06 672.51 L469.07 673.04 L470.09 673.57 L471.10 674.09 L472.12 674.62 L473.14 675.14 L474.17 675.66 L475.20 676.18 L476.23 676.70 L477.27 677.21 L478.30 677.72 L479.35 678.23 L480.39 678.74 L481.44 679.25 L482.49 679.75 L483.54 680.25 L484.60 680.75 L485.66 681.25 L486.73 681.75 L487.79 682.24 L488.86 682.73 L489.94 683.22 L491.02 683.71 L492.10 684.20 L493.18 684.68 L494.27 685.17 L495.36 685.65 L496.45 686.12 L497.55 686.60 L498.65 687.08 L499.76 687.55 L500.86 688.02 L501.97 688.49 L503.09 688.96 L504.21 689.42 L505.33 689.88 L506.45 690.35 L507.58 690.81 L508.71 691.26 L509.85 691.72 L510.99 692.17 L512.13 692.63 L513.28 693.08 L514.43 693.53 L515.58 693.97 L516.73 694.42 L517.89 694.86 L519.06 695.30 L520.23 695.74 L521.40 696.18 L522.57 696.62 L523.75 697.05 L524.93 697.49 L526.12 697.92 L527.30 698.35 L528.50 698.77 L529.69 699.20 L530.89 699.63 L532.10 700.05 L533.30 700.47 L534.52 700.89 L535.73 701.31 L536.95 701.72 L538.17 702.14 L539.40 702.55 L540.63 702.96 L541.86 703.37 L543.10 703.78 L544.34 704.18 L545.59 704.59 L546.83 704.99 L548.09 705.39 L549.34 705.79 L550.61 706.19 L551.87 706.59 L553.14 706.98 L554.41 707.37 L555.69 707.77 L556.97 708.16 L558.25 708.54 L559.54 708.93 L560.83 709.32 L562.13 709.70 L563.43 710.08 L564.73 710.46 L566.04 710.84 L567.35 711.22 L568.67 711.60 L569.99 711.97 L571.31 712.35 L572.64 712.72 L573.97 713.09 L575.31 713.46 L576.65 713.83 L578.00 714.19 L579.34 714.56 L580.70 714.92 L582.06 715.28 L583.42 715.64 L584.78 716.00 L586.15 716.36 L587.53 716.71 L588.91 717.07 L590.29 717.42 L591.67 717.77 L593.07 718.12 L594.46 718.47 L595.86 718.82 L597.27 719.16 L598.67 719.51 L600.09 719.85 L601.50 720.19 L602.93 720.53 L604.35 720.87 L605.78 721.21 L607.22 721.55 L608.66 721.88 L610.10 722.22 L611.55 722.55 L613.00 722.88 L614.46 723.21 L615.92 723.54 L617.38 723.86 L618.86 724.19 L620.33 724.52 L621.81 724.84 L623.29 725.16 L624.78 725.48 L626.28 725.80 L627.77 726.12 L629.28 726.44 L630.78 726.75 L632.30 727.07 L633.81 727.38 L635.33 727.69 L636.86 728.00 L638.39 728.31 L639.93 728.62 L641.47 728.92 L643.01 729.23 L644.56 729.53 L646.11 729.84 L647.67 730.14 L649.24 730.44 L650.81 730.74 L652.38 731.04 L653.96 731.34 L655.54 731.63 L657.13 731.93 L658.72 732.22 L660.32 732.51 L661.92 732.80 L663.53 733.09 L665.15 733.38 L666.76 733.67 L668.39 733.96 L670.01 734.24 L671.65 734.53 L673.28 734.81 L674.93 735.09 L676.58 735.37 L678.23 735.65 L679.89 735.93 L681.55 736.21 L683.22 736.49 L684.89 736.76 L686.57 737.04 L688.26 737.31 L689.94 737.58 L691.64 737.85 L693.34 738.12 L695.04 738.39 L696.75 738.66 L698.47 738.93 L700.19 739.19 L701.92 739.46 L703.65 739.72 L705.38 739.98 L707.13 740.24 L708.87 740.50 L710.63 740.76 L712.38 741.02 L714.15 741.28 L715.92 741.53 L717.69 741.79 L719.47 742.04 L721.26 742.30 L723.05 742.55 L724.84 742.80 L726.65 743.05 L728.45 743.30 L730.27 743.55 L732.09 743.80 L733.91 744.04 L735.74 744.29 L737.58 744.53 L739.42 744.77 L741.26 745.02 L743.12 745.26 L744.98 745.50 L746.84 745.74 L748.71 745.98 L750.58 746.21 L752.47 746.45 L754.35 746.69 L756.25 746.92 L758.15 747.15 L760.05 747.39 L761.96 747.62 L763.88 747.85 L765.80 748.08 L767.73 748.31 L769.66 748.54 L771.60 748.76 L773.55 748.99 L775.50 749.22 L777.46 749.44 L779.42 749.66 L781.39 749.89 L783.37 750.11 L785.35 750.33 L787.34 750.55 L789.34 750.77 L791.34 750.99 L793.35 751.20 L795.36 751.42 L797.38 751.64 L799.40 751.85 L801.44 752.07 L803.47 752.28 L805.52 752.49 L807.57 752.70 L809.63 752.91 L811.69 753.12 L813.76 753.33 L815.84 753.54 L817.92 753.75 L820.01 753.95 L822.11 754.16 L824.21 754.36 L826.32 754.57 L828.43 754.77 L830.55 754.97 L832.68 755.17 L834.82 755.38 L836.96 755.58 L839.10 755.77 L841.26 755.97 L843.42 756.17 L845.59 756.37" fill="none" stroke="#000" stroke-width="2.6" stroke-linecap="round" stroke-dasharray="15.8 22.3 1.2 22.3" stroke-dashoffset="-1.3"/>
<path d="M252.71 409.58 L253.06 411.19 L253.41 412.79 L253.77 414.39 L254.12 415.98 L254.48 417.56 L254.83 419.14 L255.19 420.71 L255.55 422.27 L255.91 423.83 L256.27 425.38 L256.64 426.92 L257.00 428.46 L257.37 430.00 L257.73 431.52 L258.10 433.04 L258.47 434.55 L258.84 436.06 L259.21 437.56 L259.58 439.06 L259.95 440.55 L260.33 442.03 L260.70 443.51 L261.08 444.98 L261.46 446.44 L261.84 447.90 L262.22 449.35 L262.60 450.80 L262.98 452.24 L263.36 453.68 L263.75 455.11 L264.13 456.53 L264.52 457.95 L264.91 459.36 L265.30 460.77 L265.69 462.17 L266.08 463.56 L266.48 464.95 L266.87 466.34 L267.27 467.72 L267.66 469.09 L268.06 470.45 L268.46 471.82 L268.86 473.17 L269.26 474.52 L269.67 475.87 L270.07 477.21 L270.48 478.54 L270.89 479.87 L271.29 481.19 L271.70 482.51 L272.12 483.82 L272.53 485.13 L272.94 486.43 L273.36 487.73 L273.77 489.02 L274.19 490.30 L274.61 491.58 L275.03 492.86 L275.45 494.13 L275.87 495.40 L276.30 496.66 L276.72 497.91 L277.15 499.16 L277.58 500.41 L278.01 501.64 L278.44 502.88 L278.87 504.11 L279.30 505.33 L279.74 506.55 L280.18 507.77 L280.61 508.98 L281.05 510.18 L281.49 511.38 L281.93 512.58 L282.38 513.77 L282.82 514.95 L283.27 516.13 L283.71 517.31 L284.16 518.48 L284.61 519.65 L285.07 520.81 L285.52 521.96 L285.97 523.12 L286.43 524.26 L286.89 525.41 L287.34 526.54 L287.80 527.68 L288.27 528.81 L288.73 529.93 L289.19 531.05 L289.66 532.17 L290.13 533.28 L290.60 534.38 L291.07 535.48 L291.54 536.58 L292.01 537.67 L292.49 538.76 L292.96 539.85 L293.44 540.92 L293.92 542.00 L294.40 543.07 L294.88 544.14 L295.37 545.20 L295.85 546.26 L296.34 547.31 L296.83 548.36 L297.32 549.40 L297.81 550.44 L298.30 551.48 L298.80 552.51 L299.29 553.54 L299.79 554.56 L300.29 555.58 L300.79 556.60 L301.29 557.61 L301.80 558.62 L302.30 559.62 L302.81 560.62 L303.32 561.61 L303.83 562.60 L304.34 563.59 L304.85 564.57 L305.37 565.55 L305.88 566.53 L306.40 567.50 L306.92 568.47 L307.44 569.43 L307.97 570.39 L308.49 571.34 L309.02 572.29 L309.55 573.24 L310.08 574.18 L310.61 575.12 L311.14 576.06 L311.68 576.99 L312.21 577.92 L312.75 578.85 L313.29 579.77 L313.83 580.68 L314.38 581.60 L314.92 582.51 L315.47 583.41 L316.02 584.31 L316.57 585.21 L317.12 586.11 L317.67 587.00 L318.23 587.89 L318.78 588.77 L319.34 589.65 L319.90 590.53 L320.46 591.40 L321.03 592.27 L321.59 593.14 L322.16 594.00 L322.73 594.86 L323.30 595.72 L323.88 596.57 L324.45 597.42 L325.03 598.26 L325.61 599.10 L326.19 599.94 L326.77 600.78 L327.35 601.61 L327.94 602.44 L328.52 603.26 L329.11 604.08 L329.71 604.90 L330.30 605.72 L330.89 606.53 L331.49 607.34 L332.09 608.14 L332.69 608.94 L333.29 609.74 L333.90 610.54 L334.50 611.33 L335.11 612.12 L335.72 612.90 L336.33 613.69 L336.95 614.47 L337.56 615.24 L338.18 616.01 L338.80 616.78 L339.42 617.55 L340.04 618.31 L340.67 619.07 L341.30 619.83 L341.93 620.59 L342.56 621.34 L343.19 622.09 L343.83 622.83 L344.46 623.57 L345.10 624.31 L345.75 625.05 L346.39 625.78 L347.03 626.51 L347.68 627.24 L348.33 627.96 L348.98 628.68 L349.64 629.40 L350.29 630.12 L350.95 630.83 L351.61 631.54 L352.27 632.25 L352.93 632.95 L353.60 633.65 L354.27 634.35 L354.94 635.04 L355.61 635.74 L356.29 636.43 L356.96 637.11 L357.64 637.80 L358.32 638.48 L359.00 639.16 L359.69 639.83 L360.38 640.50 L361.07 641.17 L361.76 641.84 L362.45 642.51 L363.15 643.17 L363.84 643.83 L364.54 644.49 L365.25 645.14 L365.95 645.79 L366.66 646.44 L367.37 647.09 L368.08 647.73 L368.79 648.37 L369.51 649.01 L370.23 649.64 L370.95 650.28 L371.67 650.91 L372.39 651.54 L373.12 652.16 L373.85 652.78 L374.58 653.40 L375.31 654.02 L376.05 654.64 L376.79 655.25 L377.53 655.86 L378.27 656.47 L379.02 657.07 L379.77 657.68 L380.52 658.28 L381.27 658.87 L382.02 659.47 L382.78 660.06 L383.54 660.65 L384.30 661.24 L385.07 661.83 L385.83 662.41 L386.60 662.99 L387.37 663.57 L388.15 664.15 L388.93 664.72 L389.70 665.29 L390.49 665.86 L391.27 666.43 L392.06 667.00 L392.84 667.56 L393.64 668.12 L394.43 668.68 L395.23 669.23 L396.02 669.79 L396.82 670.34 L397.63 670.89 L398.43 671.43 L399.24 671.98 L400.05 672.52 L400.87 673.06 L401.68 673.60 L402.50 674.13 L403.33 674.67 L404.15 675.20 L404.98 675.73 L405.81 676.25 L406.64 676.78 L407.47 677.30 L408.31 677.82 L409.15 678.34 L409.99 678.86 L410.84 679.37 L411.68 679.88 L412.53 680.39 L413.39 680.90 L414.24 681.41 L415.10 681.91 L415.96 682.41 L416.83 682.91 L417.69 683.41 L418.56 683.91 L419.43 684.40 L420.31 684.89 L421.18 685.38 L422.06 685.87 L422.95 686.36 L423.83 686.84 L424.72 687.32 L425.61 687.80 L426.51 688.28 L427.40 688.76 L428.30 689.23 L429.21 689.70 L430.11 690.17 L431.02 690.64 L431.93 691.11 L432.84 691.57 L433.76 692.03 L434.68 692.50 L435.60 692.95 L436.53 693.41 L437.46 693.87 L438.39 694.32 L439.32 694.77 L440.26 695.22 L441.20 695.67 L442.14 696.11 L443.09 696.56 L444.04 697.00 L444.99 697.44 L445.94 697.88 L446.90 698.32 L447.86 698.75 L448.82 699.19 L449.79 699.62 L450.76 700.05 L451.73 700.48 L452.71 700.90 L453.69 701.33 L454.67 701.75 L455.66 702.17 L456.64 702.59 L457.64 703.01 L458.63 703.43 L459.63 703.84 L460.63 704.25 L461.63 704.66 L462.64 705.07 L463.65 705.48 L464.66 705.89 L465.68 706.29 L466.70 706.69 L467.72 707.10 L468.75 707.49 L469.78 707.89 L470.81 708.29 L471.85 708.68 L472.89 709.08 L473.93 709.47 L474.97 709.86 L476.02 710.25 L477.07 710.63 L478.13 711.02 L479.19 711.40 L480.25 711.78 L481.32 712.16 L482.39 712.54 L483.46 712.92 L484.53 713.30 L485.61 713.67 L486.69 714.04 L487.78 714.42 L488.87 714.79 L489.96 715.15 L491.06 715.52 L492.16 715.89 L493.26 716.25 L494.37 716.61 L495.48 716.97 L496.59 717.33 L497.71 717.69 L498.83 718.05 L499.95 718.40 L501.08 718.76 L502.21 719.11 L503.34 719.46 L504.48 719.81 L505.62 720.16 L506.77 720.50 L507.91 720.85 L509.07 721.19 L510.22 721.53 L511.38 721.87 L512.55 722.21 L513.71 722.55 L514.88 722.89 L516.06 723.22 L517.23 723.56 L518.42 723.89 L519.60 724.22 L520.79 724.55 L521.98 724.88 L523.18 725.21 L524.38 725.53 L525.58 725.86 L526.79 726.18 L528.00 726.50 L529.22 726.82 L530.44 727.14 L531.66 727.46 L532.89 727.78 L534.12 728.09 L535.35 728.41 L536.59 728.72 L537.83 729.03 L539.08 729.34 L540.33 729.65 L541.58 729.96 L542.84 730.27 L544.10 730.57 L545.37 730.88 L546.64 731.18 L547.91 731.48 L549.19 731.78 L550.47 732.08 L551.76 732.38 L553.05 732.67 L554.34 732.97 L555.64 733.26 L556.94 733.56 L558.25 733.85 L559.56 734.14 L560.87 734.43 L562.19 734.72 L563.51 735.01 L564.84 735.29 L566.17 735.58 L567.50 735.86 L568.84 736.14 L570.19 736.43 L571.53 736.71 L572.89 736.98 L574.24 737.26 L575.60 737.54 L576.97 737.82 L578.34 738.09 L579.71 738.36 L581.09 738.64 L582.47 738.91 L583.85 739.18 L585.25 739.45 L586.64 739.72 L588.04 739.98 L589.44 740.25 L590.85 740.51 L592.26 740.78 L593.68 741.04 L595.10 741.30 L596.53 741.56 L597.96 741.82 L599.39 742.08 L600.83 742.34 L602.28 742.59 L603.72 742.85 L605.18 743.10 L606.63 743.36 L608.10 743.61 L609.56 743.86 L611.03 744.11 L612.51 744.36 L613.99 744.61 L615.48 744.85 L616.97 745.10 L618.46 745.34 L619.96 745.59 L621.46 745.83 L622.97 746.07 L624.48 746.31 L626.00 746.56 L627.53 746.79 L629.05 747.03 L630.59 747.27 L632.12 747.51 L633.66 747.74 L635.21 747.98 L636.76 748.21 L638.32 748.44 L639.88 748.67 L641.45 748.90 L643.02 749.13 L644.59 749.36 L646.18 749.59 L647.76 749.82 L649.35 750.04 L650.95 750.27 L652.55 750.49 L654.16 750.71 L655.77 750.94 L657.38 751.16 L659.00 751.38 L660.63 751.60 L662.26 751.82 L663.90 752.03 L665.54 752.25 L667.19 752.47 L668.84 752.68 L670.50 752.90 L672.16 753.11 L673.83 753.32 L675.50 753.53 L677.18 753.75 L678.86 753.96 L680.55 754.16 L682.24 754.37 L683.94 754.58 L685.65 754.79 L687.36 754.99 L689.07 755.20 L690.79 755.40 L692.52 755.60 L694.25 755.81 L695.99 756.01 L697.73 756.21 L699.48 756.41 L701.23 756.61 L702.99 756.81 L704.75 757.00 L706.52 757.20 L708.30 757.40 L710.08 757.59 L711.87 757.79 L713.66 757.98 L715.46 758.17 L717.26 758.36 L719.07 758.56 L720.88 758.75 L722.71 758.94 L724.53 759.12 L726.36 759.31 L728.20 759.50 L730.04 759.69 L731.89 759.87 L733.75 760.06 L735.61 760.24 L737.48 760.43 L739.35 760.61 L741.23 760.79 L743.11 760.97 L745.00 761.15 L746.90 761.33 L748.80 761.51 L750.71 761.69 L752.62 761.87 L754.54 762.04 L756.47 762.22 L758.40 762.40 L760.34 762.57 L762.28 762.74 L764.23 762.92 L766.19 763.09 L768.15 763.26 L770.12 763.43 L772.10 763.60 L774.08 763.77 L776.07 763.94 L778.06 764.11 L780.06 764.28 L782.07 764.45 L784.08 764.61 L786.10 764.78 L788.12 764.94 L790.15 765.11 L792.19 765.27 L794.24 765.44 L796.29 765.60 L798.34 765.76 L800.41 765.92 L802.48 766.08 L804.55 766.24 L806.64 766.40 L808.73 766.56 L810.82 766.72 L812.92 766.87 L815.03 767.03 L817.15 767.19 L819.27 767.34 L821.40 767.50 L823.54 767.65 L825.68 767.80 L827.83 767.96 L829.99 768.11 L832.15 768.26 L834.32 768.41 L836.49 768.56 L838.68 768.71 L840.87 768.86 L843.06 769.01 L845.27 769.16 L847.48 769.30 L849.70 769.45 L851.92 769.60 L854.15 769.74 L856.39 769.89 L858.64 770.03 L860.89 770.18 L863.15 770.32 L865.42 770.46 L867.69 770.60 L869.97 770.74 L872.26 770.89 L874.56 771.03" fill="none" stroke="#000" stroke-width="2.8" stroke-linecap="round" stroke-dasharray="0.9 6.7" stroke-dashoffset="-1.4"/>
<path d="M252.71 452.09 L253.06 453.51 L253.41 454.93 L253.76 456.35 L254.11 457.76 L254.47 459.16 L254.82 460.56 L255.18 461.95 L255.53 463.33 L255.89 464.72 L256.25 466.09 L256.61 467.46 L256.97 468.82 L257.33 470.18 L257.70 471.54 L258.06 472.88 L258.43 474.22 L258.79 475.56 L259.16 476.89 L259.53 478.22 L259.90 479.54 L260.27 480.85 L260.64 482.16 L261.02 483.47 L261.39 484.77 L261.77 486.06 L262.15 487.35 L262.52 488.63 L262.90 489.91 L263.28 491.19 L263.67 492.45 L264.05 493.72 L264.43 494.97 L264.82 496.23 L265.21 497.48 L265.59 498.72 L265.98 499.96 L266.37 501.19 L266.76 502.42 L267.16 503.64 L267.55 504.86 L267.95 506.07 L268.34 507.28 L268.74 508.48 L269.14 509.68 L269.54 510.87 L269.94 512.06 L270.34 513.25 L270.75 514.42 L271.15 515.60 L271.56 516.77 L271.97 517.93 L272.38 519.09 L272.79 520.25 L273.20 521.40 L273.61 522.55 L274.02 523.69 L274.44 524.82 L274.86 525.96 L275.28 527.08 L275.69 528.21 L276.11 529.33 L276.54 530.44 L276.96 531.55 L277.38 532.66 L277.81 533.76 L278.24 534.85 L278.67 535.94 L279.10 537.03 L279.53 538.12 L279.96 539.19 L280.39 540.27 L280.83 541.34 L281.27 542.40 L281.70 543.47 L282.14 544.52 L282.58 545.58 L283.03 546.62 L283.47 547.67 L283.91 548.71 L284.36 549.74 L284.81 550.78 L285.26 551.80 L285.71 552.83 L286.16 553.85 L286.61 554.86 L287.07 555.87 L287.52 556.88 L287.98 557.88 L288.44 558.88 L288.90 559.88 L289.36 560.87 L289.82 561.86 L290.29 562.84 L290.75 563.82 L291.22 564.79 L291.69 565.76 L292.16 566.73 L292.63 567.69 L293.11 568.65 L293.58 569.61 L294.06 570.56 L294.54 571.51 L295.02 572.45 L295.50 573.39 L295.98 574.33 L296.46 575.26 L296.95 576.19 L297.43 577.11 L297.92 578.04 L298.41 578.95 L298.90 579.87 L299.40 580.78 L299.89 581.68 L300.39 582.59 L300.88 583.49 L301.38 584.38 L301.88 585.27 L302.39 586.16 L302.89 587.05 L303.40 587.93 L303.90 588.81 L304.41 589.68 L304.92 590.55 L305.43 591.42 L305.95 592.28 L306.46 593.14 L306.98 594.00 L307.50 594.85 L308.02 595.70 L308.54 596.55 L309.06 597.39 L309.58 598.23 L310.11 599.07 L310.64 599.90 L311.17 600.73 L311.70 601.55 L312.23 602.38 L312.77 603.20 L313.30 604.01 L313.84 604.83 L314.38 605.63 L314.92 606.44 L315.46 607.24 L316.01 608.04 L316.55 608.84 L317.10 609.63 L317.65 610.42 L318.20 611.21 L318.76 611.99 L319.31 612.77 L319.87 613.55 L320.42 614.33 L320.98 615.10 L321.55 615.87 L322.11 616.63 L322.68 617.39 L323.24 618.15 L323.81 618.91 L324.38 619.66 L324.95 620.41 L325.53 621.16 L326.10 621.90 L326.68 622.64 L327.26 623.38 L327.84 624.11 L328.43 624.84 L329.01 625.57 L329.60 626.30 L330.19 627.02 L330.78 627.74 L331.37 628.46 L331.96 629.17 L332.56 629.88 L333.16 630.59 L333.76 631.30 L334.36 632.00 L334.96 632.70 L335.57 633.40 L336.17 634.09 L336.78 634.78 L337.39 635.47 L338.01 636.16 L338.62 636.84 L339.24 637.52 L339.86 638.20 L340.48 638.87 L341.10 639.54 L341.72 640.21 L342.35 640.88 L342.98 641.54 L343.61 642.21 L344.24 642.86 L344.87 643.52 L345.51 644.17 L346.15 644.82 L346.79 645.47 L347.43 646.12 L348.07 646.76 L348.72 647.40 L349.37 648.04 L350.02 648.67 L350.67 649.31 L351.32 649.94 L351.98 650.56 L352.64 651.19 L353.30 651.81 L353.96 652.43 L354.63 653.05 L355.29 653.66 L355.96 654.28 L356.63 654.89 L357.30 655.49 L357.98 656.10 L358.66 656.70 L359.34 657.30 L360.02 657.90 L360.70 658.49 L361.39 659.09 L362.07 659.68 L362.76 660.27 L363.45 660.85 L364.15 661.43 L364.85 662.02 L365.54 662.59 L366.24 663.17 L366.95 663.74 L367.65 664.32 L368.36 664.89 L369.07 665.45 L369.78 666.02 L370.49 666.58 L371.21 667.14 L371.93 667.70 L372.65 668.25 L373.37 668.81 L374.10 669.36 L374.82 669.91 L375.55 670.45 L376.28 671.00 L377.02 671.54 L377.75 672.08 L378.49 672.62 L379.23 673.16 L379.98 673.69 L380.72 674.22 L381.47 674.75 L382.22 675.28 L382.97 675.80 L383.73 676.33 L384.48 676.85 L385.24 677.37 L386.01 677.88 L386.77 678.40 L387.54 678.91 L388.31 679.42 L389.08 679.93 L389.85 680.44 L390.63 680.94 L391.41 681.44 L392.19 681.94 L392.97 682.44 L393.76 682.94 L394.55 683.43 L395.34 683.92 L396.13 684.41 L396.93 684.90 L397.72 685.39 L398.52 685.87 L399.33 686.35 L400.13 686.84 L400.94 687.31 L401.75 687.79 L402.57 688.26 L403.38 688.74 L404.20 689.21 L405.02 689.68 L405.85 690.14 L406.67 690.61 L407.50 691.07 L408.33 691.53 L409.17 691.99 L410.00 692.45 L410.84 692.91 L411.68 693.36 L412.53 693.81 L413.37 694.26 L414.22 694.71 L415.08 695.16 L415.93 695.60 L416.79 696.05 L417.65 696.49 L418.51 696.93 L419.38 697.37 L420.24 697.80 L421.12 698.24 L421.99 698.67 L422.87 699.10 L423.74 699.53 L424.63 699.96 L425.51 700.38 L426.40 700.81 L427.29 701.23 L428.18 701.65 L429.08 702.07 L429.98 702.48 L430.88 702.90 L431.78 703.31 L432.69 703.72 L433.60 704.13 L434.51 704.54 L435.43 704.95 L436.34 705.36 L437.27 705.76 L438.19 706.16 L439.12 706.56 L440.05 706.96 L440.98 707.36 L441.91 707.75 L442.85 708.15 L443.79 708.54 L444.74 708.93 L445.69 709.32 L446.64 709.71 L447.59 710.10 L448.54 710.48 L449.50 710.86 L450.47 711.24 L451.43 711.62 L452.40 712.00 L453.37 712.38 L454.34 712.76 L455.32 713.13 L456.30 713.50 L457.29 713.87 L458.27 714.24 L459.26 714.61 L460.25 714.98 L461.25 715.34 L462.25 715.70 L463.25 716.07 L464.25 716.43 L465.26 716.79 L466.27 717.14 L467.29 717.50 L468.31 717.85 L469.33 718.21 L470.35 718.56 L471.38 718.91 L472.41 719.26 L473.44 719.61 L474.48 719.95 L475.52 720.30 L476.56 720.64 L477.61 720.98 L478.66 721.32 L479.71 721.66 L480.77 722.00 L481.83 722.34 L482.89 722.67 L483.96 723.01 L485.02 723.34 L486.10 723.67 L487.17 724.00 L488.25 724.33 L489.34 724.66 L490.42 724.98 L491.51 725.31 L492.60 725.63 L493.70 725.95 L494.80 726.27 L495.90 726.59 L497.01 726.91 L498.12 727.23 L499.23 727.54 L500.35 727.86 L501.47 728.17 L502.60 728.48 L503.72 728.79 L504.86 729.10 L505.99 729.41 L507.13 729.72 L508.27 730.02 L509.41 730.33 L510.56 730.63 L511.72 730.93 L512.87 731.23 L514.03 731.53 L515.19 731.83 L516.36 732.13 L517.53 732.42 L518.71 732.72 L519.88 733.01 L521.06 733.30 L522.25 733.59 L523.44 733.88 L524.63 734.17 L525.83 734.46 L527.03 734.74 L528.23 735.03 L529.44 735.31 L530.65 735.60 L531.86 735.88 L533.08 736.16 L534.31 736.44 L535.53 736.72 L536.76 736.99 L538.00 737.27 L539.23 737.54 L540.48 737.82 L541.72 738.09 L542.97 738.36 L544.22 738.63 L545.48 738.90 L546.74 739.17 L548.01 739.44 L549.28 739.70 L550.55 739.97 L551.83 740.23 L553.11 740.50 L554.39 740.76 L555.68 741.02 L556.97 741.28 L558.27 741.54 L559.57 741.80 L560.88 742.05 L562.19 742.31 L563.50 742.56 L564.82 742.82 L566.14 743.07 L567.46 743.32 L568.79 743.57 L570.13 743.82 L571.47 744.07 L572.81 744.32 L574.15 744.56 L575.50 744.81 L576.86 745.05 L578.22 745.30 L579.58 745.54 L580.95 745.78 L582.32 746.02 L583.70 746.26 L585.08 746.50 L586.46 746.74 L587.85 746.97 L589.24 747.21 L590.64 747.45 L592.04 747.68 L593.45 747.91 L594.86 748.14 L596.27 748.38 L597.69 748.61 L599.12 748.83 L600.55 749.06 L601.98 749.29 L603.42 749.52 L604.86 749.74 L606.30 749.97 L607.75 750.19 L609.21 750.41 L610.67 750.64 L612.13 750.86 L613.60 751.08 L615.07 751.30 L616.55 751.51 L618.04 751.73 L619.52 751.95 L621.01 752.16 L622.51 752.38 L624.01 752.59 L625.52 752.81 L627.03 753.02 L628.54 753.23 L630.06 753.44 L631.59 753.65 L633.12 753.86 L634.65 754.07 L636.19 754.27 L637.73 754.48 L639.28 754.69 L640.84 754.89 L642.40 755.09 L643.96 755.30 L645.53 755.50 L647.10 755.70 L648.68 755.90 L650.26 756.10 L651.85 756.30 L653.44 756.50 L655.04 756.70 L656.64 756.89 L658.25 757.09 L659.86 757.28 L661.48 757.48 L663.10 757.67 L664.73 757.86 L666.36 758.05 L668.00 758.25 L669.64 758.44 L671.29 758.63 L672.94 758.81 L674.60 759.00 L676.26 759.19 L677.93 759.38 L679.61 759.56 L681.29 759.75 L682.97 759.93 L684.66 760.11 L686.35 760.30 L688.05 760.48 L689.76 760.66 L691.47 760.84 L693.19 761.02 L694.91 761.20 L696.63 761.38 L698.37 761.56 L700.10 761.73 L701.85 761.91 L703.59 762.09 L705.35 762.26 L707.11 762.43 L708.87 762.61 L710.64 762.78 L712.42 762.95 L714.20 763.12 L715.99 763.29 L717.78 763.46 L719.58 763.63 L721.38 763.80 L723.19 763.97 L725.00 764.14 L726.82 764.30 L728.65 764.47 L730.48 764.63 L732.32 764.80 L734.16 764.96 L736.01 765.13 L737.87 765.29 L739.73 765.45 L741.59 765.61 L743.47 765.77 L745.34 765.93 L747.23 766.09 L749.12 766.25 L751.01 766.41 L752.92 766.57 L754.82 766.72 L756.74 766.88 L758.66 767.03 L760.58 767.19 L762.51 767.34 L764.45 767.50 L766.39 767.65 L768.34 767.80 L770.30 767.95 L772.26 768.10 L774.23 768.26 L776.20 768.41 L778.18 768.55 L780.17 768.70 L782.16 768.85 L784.16 769.00 L786.16 769.15 L788.17 769.29 L790.19 769.44 L792.21 769.58 L794.24 769.73 L796.28 769.87 L798.32 770.01 L800.37 770.16 L802.43 770.30 L804.49 770.44 L806.56 770.58 L808.63 770.72 L810.71 770.86 L812.80 771.00 L814.89 771.14 L817.00 771.28 L819.10 771.42 L821.22 771.55 L823.34 771.69 L825.46 771.83 L827.60 771.96 L829.74 772.10 L831.88 772.23 L834.04 772.37 L836.20 772.50 L838.36 772.63 L840.54 772.76 L842.72 772.90 L844.91 773.03 L847.10 773.16 L849.30 773.29 L851.51 773.42 L853.72 773.55 L855.94 773.68 L858.17 773.80 L860.41 773.93 L862.65 774.06 L864.90 774.18" fill="none" stroke="#000" stroke-width="2.6" stroke-linecap="round" stroke-dasharray="10.1 15.7" stroke-dashoffset="-2.1"/>
<path d="M252.71 580.26 L253.05 581.15 L253.39 582.04 L253.74 582.92 L254.08 583.80 L254.43 584.67 L254.77 585.54 L255.12 586.41 L255.47 587.28 L255.82 588.14 L256.17 588.99 L256.52 589.85 L256.88 590.70 L257.23 591.55 L257.58 592.39 L257.94 593.23 L258.30 594.07 L258.66 594.90 L259.02 595.74 L259.38 596.56 L259.74 597.39 L260.10 598.21 L260.46 599.03 L260.83 599.84 L261.20 600.65 L261.56 601.46 L261.93 602.27 L262.30 603.07 L262.67 603.87 L263.04 604.66 L263.42 605.46 L263.79 606.24 L264.16 607.03 L264.54 607.81 L264.92 608.59 L265.30 609.37 L265.68 610.14 L266.06 610.92 L266.44 611.68 L266.82 612.45 L267.21 613.21 L267.59 613.97 L267.98 614.72 L268.37 615.48 L268.76 616.23 L269.15 616.97 L269.54 617.72 L269.93 618.46 L270.32 619.20 L270.72 619.93 L271.12 620.66 L271.51 621.39 L271.91 622.12 L272.31 622.84 L272.71 623.56 L273.11 624.28 L273.52 625.00 L273.92 625.71 L274.33 626.42 L274.74 627.12 L275.14 627.83 L275.55 628.53 L275.97 629.23 L276.38 629.92 L276.79 630.62 L277.21 631.31 L277.62 631.99 L278.04 632.68 L278.46 633.36 L278.88 634.04 L279.30 634.72 L279.72 635.39 L280.14 636.06 L280.57 636.73 L281.00 637.39 L281.42 638.06 L281.85 638.72 L282.28 639.38 L282.71 640.03 L283.15 640.68 L283.58 641.34 L284.02 641.98 L284.45 642.63 L284.89 643.27 L285.33 643.91 L285.77 644.55 L286.21 645.18 L286.66 645.82 L287.10 646.45 L287.55 647.07 L287.99 647.70 L288.44 648.32 L288.89 648.94 L289.35 649.56 L289.80 650.17 L290.25 650.79 L290.71 651.40 L291.17 652.00 L291.62 652.61 L292.08 653.21 L292.55 653.81 L293.01 654.41 L293.47 655.01 L293.94 655.60 L294.40 656.19 L294.87 656.78 L295.34 657.37 L295.81 657.95 L296.29 658.54 L296.76 659.12 L297.24 659.69 L297.71 660.27 L298.19 660.84 L298.67 661.41 L299.15 661.98 L299.64 662.55 L300.12 663.11 L300.61 663.67 L301.09 664.23 L301.58 664.79 L302.07 665.34 L302.56 665.90 L303.06 666.45 L303.55 667.00 L304.05 667.54 L304.55 668.09 L305.05 668.63 L305.55 669.17 L306.05 669.71 L306.55 670.24 L307.06 670.78 L307.57 671.31 L308.07 671.84 L308.58 672.36 L309.10 672.89 L309.61 673.41 L310.12 673.93 L310.64 674.45 L311.16 674.97 L311.68 675.48 L312.20 676.00 L312.72 676.51 L313.24 677.02 L313.77 677.52 L314.30 678.03 L314.83 678.53 L315.36 679.03 L315.89 679.53 L316.42 680.03 L316.96 680.52 L317.50 681.02 L318.04 681.51 L318.58 682.00 L319.12 682.48 L319.66 682.97 L320.21 683.45 L320.75 683.93 L321.30 684.41 L321.85 684.89 L322.41 685.37 L322.96 685.84 L323.51 686.31 L324.07 686.78 L324.63 687.25 L325.19 687.72 L325.75 688.18 L326.32 688.64 L326.88 689.11 L327.45 689.56 L328.02 690.02 L328.59 690.48 L329.16 690.93 L329.74 691.38 L330.31 691.83 L330.89 692.28 L331.47 692.73 L332.05 693.17 L332.63 693.62 L333.22 694.06 L333.81 694.50 L334.39 694.93 L334.98 695.37 L335.58 695.81 L336.17 696.24 L336.77 696.67 L337.36 697.10 L337.96 697.53 L338.56 697.95 L339.17 698.38 L339.77 698.80 L340.38 699.22 L340.99 699.64 L341.60 700.06 L342.21 700.47 L342.82 700.89 L343.44 701.30 L344.06 701.71 L344.68 702.12 L345.30 702.53 L345.92 702.93 L346.55 703.34 L347.18 703.74 L347.80 704.14 L348.44 704.54 L349.07 704.94 L349.70 705.34 L350.34 705.73 L350.98 706.12 L351.62 706.52 L352.26 706.91 L352.91 707.30 L353.55 707.68 L354.20 708.07 L354.85 708.45 L355.51 708.84 L356.16 709.22 L356.82 709.60 L357.48 709.97 L358.14 710.35 L358.80 710.73 L359.46 711.10 L360.13 711.47 L360.80 711.84 L361.47 712.21 L362.14 712.58 L362.82 712.95 L363.49 713.31 L364.17 713.68 L364.85 714.04 L365.54 714.40 L366.22 714.76 L366.91 715.12 L367.60 715.47 L368.29 715.83 L368.98 716.18 L369.68 716.53 L370.38 716.88 L371.08 717.23 L371.78 717.58 L372.48 717.93 L373.19 718.27 L373.90 718.62 L374.61 718.96 L375.32 719.30 L376.04 719.64 L376.75 719.98 L377.47 720.32 L378.20 720.65 L378.92 720.99 L379.65 721.32 L380.37 721.65 L381.10 721.98 L381.84 722.31 L382.57 722.64 L383.31 722.97 L384.05 723.29 L384.79 723.62 L385.53 723.94 L386.28 724.26 L387.03 724.58 L387.78 724.90 L388.53 725.22 L389.29 725.53 L390.04 725.85 L390.80 726.16 L391.57 726.48 L392.33 726.79 L393.10 727.10 L393.87 727.41 L394.64 727.72 L395.41 728.02 L396.19 728.33 L396.97 728.63 L397.75 728.94 L398.53 729.24 L399.32 729.54 L400.10 729.84 L400.90 730.14 L401.69 730.43 L402.48 730.73 L403.28 731.02 L404.08 731.32 L404.88 731.61 L405.69 731.90 L406.50 732.19 L407.31 732.48 L408.12 732.77 L408.93 733.05 L409.75 733.34 L410.57 733.62 L411.39 733.91 L412.22 734.19 L413.05 734.47 L413.88 734.75 L414.71 735.03 L415.54 735.31 L416.38 735.58 L417.22 735.86 L418.06 736.13 L418.91 736.41 L419.76 736.68 L420.61 736.95 L421.46 737.22 L422.32 737.49 L423.17 737.76 L424.03 738.03 L424.90 738.29 L425.76 738.56 L426.63 738.82 L427.50 739.08 L428.38 739.35 L429.25 739.61 L430.13 739.87 L431.02 740.13 L431.90 740.38 L432.79 740.64 L433.68 740.90 L434.57 741.15 L435.47 741.40 L436.37 741.66 L437.27 741.91 L438.17 742.16 L439.08 742.41 L439.99 742.66 L440.90 742.90 L441.81 743.15 L442.73 743.40 L443.65 743.64 L444.57 743.89 L445.50 744.13 L446.43 744.37 L447.36 744.61 L448.29 744.85 L449.23 745.09 L450.17 745.33 L451.12 745.57 L452.06 745.80 L453.01 746.04 L453.96 746.27 L454.92 746.50 L455.87 746.74 L456.83 746.97 L457.80 747.20 L458.76 747.43 L459.73 747.66 L460.71 747.89 L461.68 748.11 L462.66 748.34 L463.64 748.56 L464.62 748.79 L465.61 749.01 L466.60 749.23 L467.60 749.46 L468.59 749.68 L469.59 749.90 L470.59 750.12 L471.60 750.33 L472.61 750.55 L473.62 750.77 L474.63 750.98 L475.65 751.20 L476.67 751.41 L477.69 751.63 L478.72 751.84 L479.75 752.05 L480.78 752.26 L481.82 752.47 L482.86 752.68 L483.90 752.89 L484.95 753.09 L486.00 753.30 L487.05 753.51 L488.11 753.71 L489.16 753.92 L490.23 754.12 L491.29 754.32 L492.36 754.52 L493.43 754.72 L494.51 754.92 L495.59 755.12 L496.67 755.32 L497.75 755.52 L498.84 755.72 L499.93 755.91 L501.03 756.11 L502.12 756.30 L503.22 756.50 L504.33 756.69 L505.44 756.88 L506.55 757.07 L507.66 757.26 L508.78 757.45 L509.90 757.64 L511.03 757.83 L512.16 758.02 L513.29 758.21 L514.43 758.39 L515.56 758.58 L516.71 758.76 L517.85 758.95 L519.00 759.13 L520.15 759.31 L521.31 759.50 L522.47 759.68 L523.63 759.86 L524.80 760.04 L525.97 760.22 L527.15 760.39 L528.32 760.57 L529.50 760.75 L530.69 760.93 L531.88 761.10 L533.07 761.28 L534.27 761.45 L535.47 761.62 L536.67 761.80 L537.87 761.97 L539.09 762.14 L540.30 762.31 L541.52 762.48 L542.74 762.65 L543.96 762.82 L545.19 762.99 L546.43 763.15 L547.66 763.32 L548.90 763.49 L550.15 763.65 L551.39 763.82 L552.64 763.98 L553.90 764.15 L555.16 764.31 L556.42 764.47 L557.69 764.63 L558.96 764.79 L560.23 764.95 L561.51 765.11 L562.80 765.27 L564.08 765.43 L565.37 765.59 L566.67 765.75 L567.96 765.90 L569.27 766.06 L570.57 766.21 L571.88 766.37 L573.20 766.52 L574.51 766.68 L575.84 766.83 L577.16 766.98 L578.49 767.13 L579.83 767.28 L581.16 767.43 L582.51 767.58 L583.85 767.73 L585.20 767.88 L586.56 768.03 L587.92 768.18 L589.28 768.32 L590.65 768.47 L592.02 768.62 L593.39 768.76 L594.77 768.91 L596.16 769.05 L597.54 769.19 L598.94 769.34 L600.33 769.48 L601.73 769.62 L603.14 769.76 L604.55 769.90 L605.96 770.04 L607.38 770.18 L608.80 770.32 L610.23 770.46 L611.66 770.60 L613.09 770.74 L614.53 770.87 L615.98 771.01 L617.43 771.14 L618.88 771.28 L620.34 771.41 L621.80 771.55 L623.26 771.68 L624.73 771.82 L626.21 771.95 L627.69 772.08 L629.17 772.21 L630.66 772.34 L632.15 772.47 L633.65 772.60 L635.15 772.73 L636.66 772.86 L638.17 772.99 L639.69 773.12 L641.21 773.25 L642.73 773.37 L644.26 773.50 L645.80 773.62 L647.34 773.75 L648.88 773.88 L650.43 774.00 L651.98 774.12 L653.54 774.25 L655.11 774.37 L656.67 774.49 L658.25 774.61 L659.82 774.74 L661.40 774.86 L662.99 774.98 L664.58 775.10 L666.18 775.22 L667.78 775.34 L669.39 775.46 L671.00 775.57 L672.61 775.69 L674.24 775.81 L675.86 775.93 L677.49 776.04 L679.13 776.16 L680.77 776.27 L682.41 776.39 L684.07 776.50 L685.72 776.62 L687.38 776.73 L689.05 776.84 L690.72 776.96 L692.39 777.07 L694.08 777.18 L695.76 777.29 L697.45 777.40 L699.15 777.51 L700.85 777.62 L702.56 777.73 L704.27 777.84 L705.99 777.95 L707.71 778.06 L709.44 778.17 L711.17 778.27 L712.91 778.38 L714.66 778.49 L716.40 778.59 L718.16 778.70 L719.92 778.81 L721.68 778.91 L723.45 779.02 L725.23 779.12 L727.01 779.22 L728.80 779.33 L730.59 779.43 L732.39 779.53 L734.19 779.63 L736.00 779.74 L737.81 779.84 L739.63 779.94 L741.46 780.04 L743.29 780.14 L745.13 780.24 L746.97 780.34 L748.81 780.44 L750.67 780.54 L752.53 780.63 L754.39 780.73 L756.26 780.83 L758.14 780.93 L760.02 781.02 L761.91 781.12 L763.80 781.21 L765.70 781.31 L767.60 781.41 L769.51 781.50 L771.43 781.59 L773.35 781.69 L775.28 781.78 L777.21 781.88 L779.15 781.97 L781.10 782.06 L783.05 782.15 L785.01 782.24 L786.97 782.34 L788.94 782.43 L790.92 782.52 L792.90 782.61 L794.89 782.70 L796.88 782.79 L798.88 782.88 L800.88 782.97 L802.90 783.05 L804.91 783.14 L806.94 783.23 L808.97 783.32 L811.00 783.40 L813.05 783.49 L815.10 783.58 L817.15 783.66 L819.21 783.75 L821.28 783.84 L823.35 783.92 L825.43 784.01 L827.52 784.09 L829.61 784.17 L831.71 784.26 L833.82 784.34 L835.93 784.42" fill="none" stroke="#000" stroke-width="2.8"/>
<rect x="375.6" y="40.1" width="521.2" height="316.2" fill="#fff" stroke="#000" stroke-width="1.7"/>
<text y="72.7" font-size="24.5"><tspan x="448.8" font-weight="bold">PC III</tspan><tspan x="535.6" font-style="italic">q</tspan><tspan font-style="italic" font-size="16" dy="5.5">u</tspan><tspan x="562.4" dy="-5.5">(kPa) = </tspan><tspan x="641.5" font-style="italic">A</tspan><tspan x="664.2">x 10</tspan><tspan x="708.4" font-size="14" dy="-7.6">4</tspan><tspan x="728.4" dy="7.6">(η/</tspan><tspan x="757.6" font-style="italic">C</tspan><tspan font-style="italic" font-size="16" dy="5.5">iv</tspan><tspan x="786.2" dy="-5.5">)</tspan><tspan x="793.4" font-size="14.4" dy="-7.4">-1.30</tspan></text>
<path d="M405.40 98.00L419.40 112.00M405.40 112.00L419.40 98.00" stroke="#0000ff" stroke-width="1.8" fill="none"/>
<text x="453.8" y="111" font-size="17.95" xml:space="preserve">90 days - 19 kN/m<tspan>³</tspan></text>
<path d="M405.40 123.20L419.40 137.20M405.40 137.20L419.40 123.20" stroke="#ff0000" stroke-width="1.8" fill="none"/>
<text x="453.8" y="136.2" font-size="17.95" xml:space="preserve">90 days - 18 kN/m<tspan>³</tspan></text>
<path d="M405.40 147.90L419.40 161.90M405.40 161.90L419.40 147.90" stroke="#000000" stroke-width="1.8" fill="none"/>
<text x="453.8" y="160.9" font-size="17.95" xml:space="preserve">90 days - 17 kN/m<tspan>³</tspan></text>
<path d="M412.40 173.25L420.20 186.55L404.60 186.55Z" fill="#0000ff"/>
<text x="453.8" y="185.9" font-size="17.95" xml:space="preserve">28 days - 19 kN/m<tspan>³</tspan></text>
<path d="M412.40 197.85L420.20 211.15L404.60 211.15Z" fill="#ff0000"/>
<text x="453.8" y="210.5" font-size="17.95" xml:space="preserve">28 days - 18 kN/m<tspan>³</tspan></text>
<path d="M412.40 223.05L420.20 236.35L404.60 236.35Z" fill="#000000"/>
<text x="453.8" y="235.7" font-size="17.95" xml:space="preserve">28 days - 17 kN/m<tspan>³</tspan></text>
<path d="M412.40 248.80L420.20 256.60L412.40 264.40L404.60 256.60ZM412.40 254.20L410.00 256.60L412.40 259.00L414.80 256.60Z" fill="#0000ff" fill-rule="evenodd"/>
<text x="453.8" y="262.6" font-size="17.95" xml:space="preserve">7 days - 19 kN/m<tspan>³</tspan></text>
<path d="M412.40 275.90L420.20 283.70L412.40 291.50L404.60 283.70ZM412.40 281.30L410.00 283.70L412.40 286.10L414.80 283.70Z" fill="#ff0000" fill-rule="evenodd"/>
<text x="453.8" y="289.7" font-size="17.95" xml:space="preserve">7 days - 18 kN/m<tspan>³</tspan></text>
<path d="M412.40 303.00L420.20 310.80L412.40 318.60L404.60 310.80ZM412.40 308.40L410.00 310.80L412.40 313.20L414.80 310.80Z" fill="#000000" fill-rule="evenodd"/>
<text x="453.8" y="316.8" font-size="17.95" xml:space="preserve">7 days - 17 kN/m<tspan>³</tspan></text>
<circle cx="412.40" cy="337.90" r="7.8" fill="#0000ff"/>
<text x="453.8" y="343.9" font-size="17.95" xml:space="preserve">4 days - 19 kN/m<tspan>³</tspan></text>
<circle cx="632.00" cy="105.00" r="7.8" fill="#ff0000"/>
<text x="674.5" y="111" font-size="17.95" xml:space="preserve">4 days - 18 kN/m³</text>
<circle cx="632.00" cy="130.20" r="7.8" fill="#000000"/>
<text x="674.5" y="136.2" font-size="17.95" xml:space="preserve">4 days - 17 kN/m³</text>
<path d="M629.10 145.20h5.8v6.80h6.80v5.8h-6.80v6.80h-5.8v-6.80h-6.80v-5.8h6.80Z" fill="#0000ff"/>
<text x="674.5" y="160.9" font-size="17.95" xml:space="preserve">2 days - 19 kN/m³</text>
<path d="M629.10 170.20h5.8v6.80h6.80v5.8h-6.80v6.80h-5.8v-6.80h-6.80v-5.8h6.80Z" fill="#ff0000"/>
<text x="674.5" y="185.9" font-size="17.95" xml:space="preserve">2 days - 18 kN/m³</text>
<path d="M629.10 194.80h5.8v6.80h6.80v5.8h-6.80v6.80h-5.8v-6.80h-6.80v-5.8h6.80Z" fill="#000000"/>
<text x="674.5" y="210.5" font-size="17.95" xml:space="preserve">2 days - 17 kN/m³</text>
<path d="M601.7 229.70H662.2" fill="none" stroke="#9a9a9a" stroke-width="1.4" stroke-dasharray="45 20 5 20" transform="translate(0 0.6)"/>
<text x="674.5" y="235.7" font-size="17.95" xml:space="preserve">90 days - A = 4.89  R² = 0.97</text>
<path d="M601.7 256.60H662.2" fill="none" stroke="#000" stroke-width="2.6" stroke-linecap="round" stroke-dasharray="15.8 22.3 1.2 22.3" stroke-dashoffset="-1.3"/>
<text x="674.5" y="262.6" font-size="17.95" xml:space="preserve">28 days - A = 4.04  R² =  0.94</text>
<path d="M601.7 283.70H662.2" fill="none" stroke="#000" stroke-width="2.8" stroke-linecap="round" stroke-dasharray="0.9 6.88" stroke-dashoffset="-1.4"/>
<text x="674.5" y="289.7" font-size="17.95" xml:space="preserve">7 days - A = 2.98  R² =  0.97</text>
<path d="M601.7 310.80H662.2" fill="none" stroke="#000" stroke-width="2.6" stroke-linecap="round" stroke-dasharray="10 15.85" stroke-dashoffset="-1.3"/>
<text x="674.5" y="316.8" font-size="17.95" xml:space="preserve">4 days - A = 2.66  R² =  0.96</text>
<path d="M601.7 337.90H662.2" fill="none" stroke="#000" stroke-width="2.8"/>
<text x="674.5" y="343.9" font-size="17.95" xml:space="preserve">2 days - A = 1.63  R² =  0.92</text>
</svg></body></html>
